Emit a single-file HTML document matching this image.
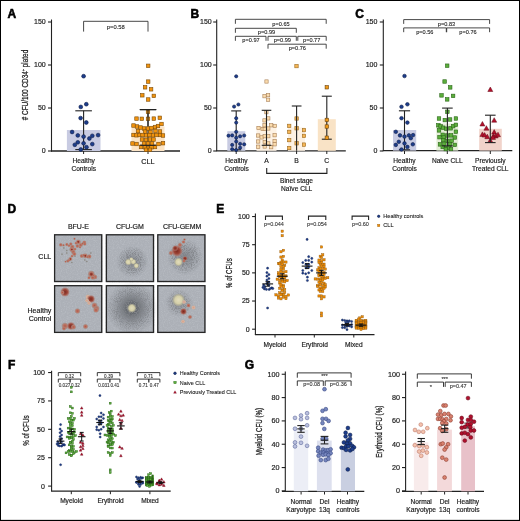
<!DOCTYPE html>
<html><head><meta charset="utf-8"><style>
html,body{margin:0;padding:0;background:#fff;}
svg{display:block;will-change:transform;}
text{font-family:"Liberation Sans", sans-serif;}
</style></head><body>
<svg width="520" height="521" viewBox="0 0 520 521">
<rect x="0" y="0" width="520" height="521" fill="#fff"/>
<text x="7.60" y="18.00" font-size="12" text-anchor="start" font-weight="bold" fill="#000" stroke="#000" stroke-width="0.55" >A</text>
<line x1="51.50" y1="19.50" x2="51.50" y2="151.50" stroke="#222" stroke-width="1.1"/>
<line x1="48.00" y1="22.00" x2="51.50" y2="22.00" stroke="#222" stroke-width="1.1"/>
<text x="45.70" y="24.40" font-size="7.0" text-anchor="end" font-weight="normal" fill="#222" stroke="#222" stroke-width="0.18" >150</text>
<line x1="48.00" y1="65.00" x2="51.50" y2="65.00" stroke="#222" stroke-width="1.1"/>
<text x="45.70" y="67.40" font-size="7.0" text-anchor="end" font-weight="normal" fill="#222" stroke="#222" stroke-width="0.18" >100</text>
<line x1="48.00" y1="108.00" x2="51.50" y2="108.00" stroke="#222" stroke-width="1.1"/>
<text x="45.70" y="110.40" font-size="7.0" text-anchor="end" font-weight="normal" fill="#222" stroke="#222" stroke-width="0.18" >50</text>
<line x1="48.00" y1="151.00" x2="51.50" y2="151.00" stroke="#222" stroke-width="1.1"/>
<text x="45.70" y="153.40" font-size="7.0" text-anchor="end" font-weight="normal" fill="#222" stroke="#222" stroke-width="0.18" >0</text>
<line x1="51.00" y1="151.00" x2="180.00" y2="151.00" stroke="#222" stroke-width="1.3"/>
<line x1="83.60" y1="151.00" x2="83.60" y2="154.00" stroke="#222" stroke-width="1"/>
<line x1="148.00" y1="151.00" x2="148.00" y2="154.00" stroke="#222" stroke-width="1"/>
<rect x="66.90" y="130.00" width="33.60" height="21.00" fill="#c8cbe2"/>
<rect x="131.50" y="126.50" width="33.00" height="24.50" fill="#fde5c6"/>
<line x1="83.60" y1="110.80" x2="83.60" y2="149.60" stroke="#222" stroke-width="1.1"/>
<line x1="75.30" y1="110.80" x2="91.90" y2="110.80" stroke="#222" stroke-width="1.1"/>
<line x1="75.30" y1="149.60" x2="91.90" y2="149.60" stroke="#222" stroke-width="1.1"/>
<circle cx="83.60" cy="76.20" r="1.9" fill="#1d3d8c" stroke="#0f1f48" stroke-width="0.6"/>
<circle cx="80.80" cy="106.90" r="1.9" fill="#1d3d8c" stroke="#0f1f48" stroke-width="0.6"/>
<circle cx="86.30" cy="104.20" r="1.9" fill="#1d3d8c" stroke="#0f1f48" stroke-width="0.6"/>
<circle cx="80.60" cy="118.10" r="1.9" fill="#1d3d8c" stroke="#0f1f48" stroke-width="0.6"/>
<circle cx="86.30" cy="122.50" r="1.9" fill="#1d3d8c" stroke="#0f1f48" stroke-width="0.6"/>
<circle cx="72.10" cy="132.00" r="1.9" fill="#1d3d8c" stroke="#0f1f48" stroke-width="0.6"/>
<circle cx="77.80" cy="135.40" r="1.9" fill="#1d3d8c" stroke="#0f1f48" stroke-width="0.6"/>
<circle cx="83.60" cy="136.60" r="1.9" fill="#1d3d8c" stroke="#0f1f48" stroke-width="0.6"/>
<circle cx="89.40" cy="138.50" r="1.9" fill="#1d3d8c" stroke="#0f1f48" stroke-width="0.6"/>
<circle cx="92.30" cy="135.80" r="1.9" fill="#1d3d8c" stroke="#0f1f48" stroke-width="0.6"/>
<circle cx="98.10" cy="135.10" r="1.9" fill="#1d3d8c" stroke="#0f1f48" stroke-width="0.6"/>
<circle cx="77.80" cy="142.30" r="1.9" fill="#1d3d8c" stroke="#0f1f48" stroke-width="0.6"/>
<circle cx="74.80" cy="144.80" r="1.9" fill="#1d3d8c" stroke="#0f1f48" stroke-width="0.6"/>
<circle cx="83.60" cy="143.30" r="1.9" fill="#1d3d8c" stroke="#0f1f48" stroke-width="0.6"/>
<circle cx="92.30" cy="144.10" r="1.9" fill="#1d3d8c" stroke="#0f1f48" stroke-width="0.6"/>
<circle cx="86.50" cy="147.20" r="1.9" fill="#1d3d8c" stroke="#0f1f48" stroke-width="0.6"/>
<circle cx="80.80" cy="149.50" r="1.9" fill="#1d3d8c" stroke="#0f1f48" stroke-width="0.6"/>
<line x1="148.00" y1="109.60" x2="148.00" y2="145.30" stroke="#222" stroke-width="1.1"/>
<line x1="139.80" y1="109.60" x2="156.20" y2="109.60" stroke="#222" stroke-width="1.1"/>
<line x1="139.80" y1="145.30" x2="156.20" y2="145.30" stroke="#222" stroke-width="1.1"/>
<rect x="146.45" y="64.05" width="3.5" height="3.5" fill="#f1930e" stroke="#7a4a08" stroke-width="0.6"/>
<rect x="146.45" y="79.85" width="3.5" height="3.5" fill="#f1930e" stroke="#7a4a08" stroke-width="0.6"/>
<rect x="143.35" y="85.55" width="3.5" height="3.5" fill="#f1930e" stroke="#7a4a08" stroke-width="0.6"/>
<rect x="149.35" y="87.55" width="3.5" height="3.5" fill="#f1930e" stroke="#7a4a08" stroke-width="0.6"/>
<rect x="140.55" y="93.55" width="3.5" height="3.5" fill="#f1930e" stroke="#7a4a08" stroke-width="0.6"/>
<rect x="152.05" y="94.15" width="3.5" height="3.5" fill="#f1930e" stroke="#7a4a08" stroke-width="0.6"/>
<rect x="146.45" y="97.75" width="3.5" height="3.5" fill="#f1930e" stroke="#7a4a08" stroke-width="0.6"/>
<rect x="146.25" y="110.15" width="3.5" height="3.5" fill="#f1930e" stroke="#7a4a08" stroke-width="0.6"/>
<rect x="134.75" y="116.85" width="3.5" height="3.5" fill="#f1930e" stroke="#7a4a08" stroke-width="0.6"/>
<rect x="140.05" y="117.05" width="3.5" height="3.5" fill="#f1930e" stroke="#7a4a08" stroke-width="0.6"/>
<rect x="146.25" y="117.05" width="3.5" height="3.5" fill="#f1930e" stroke="#7a4a08" stroke-width="0.6"/>
<rect x="152.05" y="116.85" width="3.5" height="3.5" fill="#f1930e" stroke="#7a4a08" stroke-width="0.6"/>
<rect x="158.05" y="116.05" width="3.5" height="3.5" fill="#f1930e" stroke="#7a4a08" stroke-width="0.6"/>
<rect x="131.75" y="123.75" width="3.5" height="3.5" fill="#f1930e" stroke="#7a4a08" stroke-width="0.6"/>
<rect x="135.25" y="124.75" width="3.5" height="3.5" fill="#f1930e" stroke="#7a4a08" stroke-width="0.6"/>
<rect x="138.75" y="125.75" width="3.5" height="3.5" fill="#f1930e" stroke="#7a4a08" stroke-width="0.6"/>
<rect x="142.25" y="126.75" width="3.5" height="3.5" fill="#f1930e" stroke="#7a4a08" stroke-width="0.6"/>
<rect x="146.25" y="126.75" width="3.5" height="3.5" fill="#f1930e" stroke="#7a4a08" stroke-width="0.6"/>
<rect x="149.75" y="126.25" width="3.5" height="3.5" fill="#f1930e" stroke="#7a4a08" stroke-width="0.6"/>
<rect x="153.25" y="125.25" width="3.5" height="3.5" fill="#f1930e" stroke="#7a4a08" stroke-width="0.6"/>
<rect x="156.25" y="124.25" width="3.5" height="3.5" fill="#f1930e" stroke="#7a4a08" stroke-width="0.6"/>
<rect x="159.75" y="122.25" width="3.5" height="3.5" fill="#f1930e" stroke="#7a4a08" stroke-width="0.6"/>
<rect x="143.25" y="129.85" width="3.5" height="3.5" fill="#f1930e" stroke="#7a4a08" stroke-width="0.6"/>
<rect x="148.75" y="130.25" width="3.5" height="3.5" fill="#f1930e" stroke="#7a4a08" stroke-width="0.6"/>
<rect x="158.25" y="129.75" width="3.5" height="3.5" fill="#f1930e" stroke="#7a4a08" stroke-width="0.6"/>
<rect x="131.75" y="133.25" width="3.5" height="3.5" fill="#f1930e" stroke="#7a4a08" stroke-width="0.6"/>
<rect x="134.75" y="133.55" width="3.5" height="3.5" fill="#f1930e" stroke="#7a4a08" stroke-width="0.6"/>
<rect x="137.75" y="133.25" width="3.5" height="3.5" fill="#f1930e" stroke="#7a4a08" stroke-width="0.6"/>
<rect x="140.75" y="133.25" width="3.5" height="3.5" fill="#f1930e" stroke="#7a4a08" stroke-width="0.6"/>
<rect x="144.25" y="133.55" width="3.5" height="3.5" fill="#f1930e" stroke="#7a4a08" stroke-width="0.6"/>
<rect x="147.75" y="133.25" width="3.5" height="3.5" fill="#f1930e" stroke="#7a4a08" stroke-width="0.6"/>
<rect x="151.25" y="133.55" width="3.5" height="3.5" fill="#f1930e" stroke="#7a4a08" stroke-width="0.6"/>
<rect x="154.75" y="133.25" width="3.5" height="3.5" fill="#f1930e" stroke="#7a4a08" stroke-width="0.6"/>
<rect x="158.25" y="133.25" width="3.5" height="3.5" fill="#f1930e" stroke="#7a4a08" stroke-width="0.6"/>
<rect x="161.25" y="133.75" width="3.5" height="3.5" fill="#f1930e" stroke="#7a4a08" stroke-width="0.6"/>
<rect x="140.25" y="137.75" width="3.5" height="3.5" fill="#f1930e" stroke="#7a4a08" stroke-width="0.6"/>
<rect x="144.25" y="138.05" width="3.5" height="3.5" fill="#f1930e" stroke="#7a4a08" stroke-width="0.6"/>
<rect x="148.25" y="137.75" width="3.5" height="3.5" fill="#f1930e" stroke="#7a4a08" stroke-width="0.6"/>
<rect x="151.75" y="137.75" width="3.5" height="3.5" fill="#f1930e" stroke="#7a4a08" stroke-width="0.6"/>
<rect x="130.75" y="141.75" width="3.5" height="3.5" fill="#f1930e" stroke="#7a4a08" stroke-width="0.6"/>
<rect x="134.75" y="142.25" width="3.5" height="3.5" fill="#f1930e" stroke="#7a4a08" stroke-width="0.6"/>
<rect x="156.75" y="142.25" width="3.5" height="3.5" fill="#f1930e" stroke="#7a4a08" stroke-width="0.6"/>
<rect x="161.25" y="141.45" width="3.5" height="3.5" fill="#f1930e" stroke="#7a4a08" stroke-width="0.6"/>
<rect x="139.25" y="145.25" width="3.5" height="3.5" fill="#f1930e" stroke="#7a4a08" stroke-width="0.6"/>
<rect x="143.25" y="145.55" width="3.5" height="3.5" fill="#f1930e" stroke="#7a4a08" stroke-width="0.6"/>
<rect x="146.25" y="146.25" width="3.5" height="3.5" fill="#f1930e" stroke="#7a4a08" stroke-width="0.6"/>
<rect x="149.75" y="145.55" width="3.5" height="3.5" fill="#f1930e" stroke="#7a4a08" stroke-width="0.6"/>
<rect x="153.25" y="145.25" width="3.5" height="3.5" fill="#f1930e" stroke="#7a4a08" stroke-width="0.6"/>
<rect x="144.25" y="148.05" width="3.5" height="3.5" fill="#f1930e" stroke="#7a4a08" stroke-width="0.6"/>
<rect x="148.25" y="148.05" width="3.5" height="3.5" fill="#f1930e" stroke="#7a4a08" stroke-width="0.6"/>
<rect x="136.25" y="129.25" width="3.5" height="3.5" fill="#f1930e" stroke="#7a4a08" stroke-width="0.6"/>
<rect x="153.75" y="129.25" width="3.5" height="3.5" fill="#f1930e" stroke="#7a4a08" stroke-width="0.6"/>
<rect x="146.25" y="141.75" width="3.5" height="3.5" fill="#f1930e" stroke="#7a4a08" stroke-width="0.6"/>
<rect x="142.25" y="141.75" width="3.5" height="3.5" fill="#f1930e" stroke="#7a4a08" stroke-width="0.6"/>
<rect x="150.25" y="141.75" width="3.5" height="3.5" fill="#f1930e" stroke="#7a4a08" stroke-width="0.6"/>
<line x1="148.00" y1="109.60" x2="148.00" y2="126.00" stroke="#222" stroke-width="1.1"/>
<line x1="139.80" y1="109.60" x2="156.30" y2="109.60" stroke="#222" stroke-width="1.2"/>
<line x1="140.20" y1="145.30" x2="155.80" y2="145.30" stroke="#222" stroke-width="1.1"/>
<path d="M83.60 31.60V21.30H148.00V31.60" fill="none" stroke="#333" stroke-width="0.9"/>
<text x="115.80" y="28.80" font-size="5.8" text-anchor="middle" font-weight="normal" fill="#222" stroke="#222" stroke-width="0.1" >p=0.58</text>
<text x="83.70" y="163.20" font-size="6.6" text-anchor="middle" font-weight="normal" fill="#222" stroke="#222" stroke-width="0.18" >Healthy</text>
<text x="83.70" y="171.20" font-size="6.6" text-anchor="middle" font-weight="normal" fill="#222" stroke="#222" stroke-width="0.18" >Controls</text>
<text x="147.90" y="163.50" font-size="7.2" text-anchor="middle" font-weight="normal" fill="#222" stroke="#222" stroke-width="0.18" >CLL</text>
<text transform="translate(28.2,85) rotate(-90)" font-size="8.3" text-anchor="middle" fill="#222" stroke="#222" stroke-width="0.25" textLength="70.5" lengthAdjust="spacingAndGlyphs"># CFU/100 CD34<tspan font-size="5" dy="-3">+</tspan><tspan dy="3"> plated</tspan></text>
<text x="190.60" y="18.00" font-size="12" text-anchor="start" font-weight="bold" fill="#000" stroke="#000" stroke-width="0.55" >B</text>
<line x1="216.70" y1="19.50" x2="216.70" y2="151.00" stroke="#222" stroke-width="1.1"/>
<line x1="213.20" y1="22.00" x2="216.70" y2="22.00" stroke="#222" stroke-width="1.1"/>
<text x="211.70" y="24.40" font-size="7.0" text-anchor="end" font-weight="normal" fill="#222" stroke="#222" stroke-width="0.18" >150</text>
<line x1="213.20" y1="65.00" x2="216.70" y2="65.00" stroke="#222" stroke-width="1.1"/>
<text x="211.70" y="67.40" font-size="7.0" text-anchor="end" font-weight="normal" fill="#222" stroke="#222" stroke-width="0.18" >100</text>
<line x1="213.20" y1="108.00" x2="216.70" y2="108.00" stroke="#222" stroke-width="1.1"/>
<text x="211.70" y="110.40" font-size="7.0" text-anchor="end" font-weight="normal" fill="#222" stroke="#222" stroke-width="0.18" >50</text>
<line x1="213.20" y1="151.00" x2="216.70" y2="151.00" stroke="#222" stroke-width="1.1"/>
<text x="211.70" y="153.40" font-size="7.0" text-anchor="end" font-weight="normal" fill="#222" stroke="#222" stroke-width="0.18" >0</text>
<line x1="216.20" y1="150.80" x2="345.80" y2="150.80" stroke="#222" stroke-width="1.3"/>
<line x1="236.20" y1="150.80" x2="236.20" y2="154.00" stroke="#222" stroke-width="1"/>
<line x1="266.50" y1="150.80" x2="266.50" y2="154.00" stroke="#222" stroke-width="1"/>
<line x1="296.60" y1="150.80" x2="296.60" y2="154.00" stroke="#222" stroke-width="1"/>
<line x1="326.80" y1="150.80" x2="326.80" y2="154.00" stroke="#222" stroke-width="1"/>
<rect x="227.30" y="131.20" width="18.00" height="19.60" fill="#c8cbe2"/>
<rect x="256.50" y="126.00" width="20.00" height="24.80" fill="#fdf2e4"/>
<rect x="288.00" y="127.50" width="17.00" height="23.30" fill="#fdf1e2"/>
<rect x="317.80" y="119.20" width="18.00" height="31.60" fill="#f9e3c6"/>
<line x1="236.20" y1="110.90" x2="236.20" y2="149.80" stroke="#222" stroke-width="1.1"/>
<line x1="231.20" y1="110.90" x2="241.20" y2="110.90" stroke="#222" stroke-width="1.1"/>
<line x1="231.20" y1="149.80" x2="241.20" y2="149.80" stroke="#222" stroke-width="1.1"/>
<circle cx="236.20" cy="76.30" r="1.6" fill="#1d3d8c" stroke="#0f1f48" stroke-width="0.6"/>
<circle cx="234.10" cy="106.60" r="1.6" fill="#1d3d8c" stroke="#0f1f48" stroke-width="0.6"/>
<circle cx="238.40" cy="104.50" r="1.6" fill="#1d3d8c" stroke="#0f1f48" stroke-width="0.6"/>
<circle cx="236.20" cy="118.20" r="1.6" fill="#1d3d8c" stroke="#0f1f48" stroke-width="0.6"/>
<circle cx="236.20" cy="122.60" r="1.6" fill="#1d3d8c" stroke="#0f1f48" stroke-width="0.6"/>
<circle cx="236.20" cy="131.80" r="1.6" fill="#1d3d8c" stroke="#0f1f48" stroke-width="0.6"/>
<circle cx="228.50" cy="135.70" r="1.6" fill="#1d3d8c" stroke="#0f1f48" stroke-width="0.6"/>
<circle cx="232.20" cy="135.40" r="1.6" fill="#1d3d8c" stroke="#0f1f48" stroke-width="0.6"/>
<circle cx="240.10" cy="136.30" r="1.6" fill="#1d3d8c" stroke="#0f1f48" stroke-width="0.6"/>
<circle cx="244.20" cy="135.50" r="1.6" fill="#1d3d8c" stroke="#0f1f48" stroke-width="0.6"/>
<circle cx="236.20" cy="137.70" r="1.6" fill="#1d3d8c" stroke="#0f1f48" stroke-width="0.6"/>
<circle cx="236.20" cy="141.50" r="1.6" fill="#1d3d8c" stroke="#0f1f48" stroke-width="0.6"/>
<circle cx="232.20" cy="144.90" r="1.6" fill="#1d3d8c" stroke="#0f1f48" stroke-width="0.6"/>
<circle cx="240.10" cy="143.80" r="1.6" fill="#1d3d8c" stroke="#0f1f48" stroke-width="0.6"/>
<circle cx="244.20" cy="144.30" r="1.6" fill="#1d3d8c" stroke="#0f1f48" stroke-width="0.6"/>
<circle cx="240.10" cy="147.70" r="1.6" fill="#1d3d8c" stroke="#0f1f48" stroke-width="0.6"/>
<circle cx="232.20" cy="149.20" r="1.6" fill="#1d3d8c" stroke="#0f1f48" stroke-width="0.6"/>
<circle cx="236.20" cy="150.00" r="1.6" fill="#1d3d8c" stroke="#0f1f48" stroke-width="0.6"/>
<rect x="264.85" y="79.85" width="3.3" height="3.3" fill="#fbdcae" stroke="#a88058" stroke-width="0.6"/>
<rect x="262.85" y="94.55" width="3.3" height="3.3" fill="#fbdcae" stroke="#a88058" stroke-width="0.6"/>
<rect x="266.45" y="93.45" width="3.3" height="3.3" fill="#fbdcae" stroke="#a88058" stroke-width="0.6"/>
<rect x="266.45" y="98.05" width="3.3" height="3.3" fill="#fbdcae" stroke="#a88058" stroke-width="0.6"/>
<rect x="264.75" y="110.55" width="3.3" height="3.3" fill="#fbdcae" stroke="#a88058" stroke-width="0.6"/>
<rect x="266.65" y="116.75" width="3.3" height="3.3" fill="#fbdcae" stroke="#a88058" stroke-width="0.6"/>
<rect x="262.85" y="118.75" width="3.3" height="3.3" fill="#fbdcae" stroke="#a88058" stroke-width="0.6"/>
<rect x="262.85" y="123.55" width="3.3" height="3.3" fill="#fbdcae" stroke="#a88058" stroke-width="0.6"/>
<rect x="269.55" y="123.65" width="3.3" height="3.3" fill="#fbdcae" stroke="#a88058" stroke-width="0.6"/>
<rect x="273.15" y="124.25" width="3.3" height="3.3" fill="#fbdcae" stroke="#a88058" stroke-width="0.6"/>
<rect x="256.85" y="126.35" width="3.3" height="3.3" fill="#fbdcae" stroke="#a88058" stroke-width="0.6"/>
<rect x="260.95" y="127.35" width="3.3" height="3.3" fill="#fbdcae" stroke="#a88058" stroke-width="0.6"/>
<rect x="263.05" y="127.35" width="3.3" height="3.3" fill="#fbdcae" stroke="#a88058" stroke-width="0.6"/>
<rect x="266.65" y="126.85" width="3.3" height="3.3" fill="#fbdcae" stroke="#a88058" stroke-width="0.6"/>
<rect x="256.55" y="133.85" width="3.3" height="3.3" fill="#fbdcae" stroke="#a88058" stroke-width="0.6"/>
<rect x="259.95" y="135.75" width="3.3" height="3.3" fill="#fbdcae" stroke="#a88058" stroke-width="0.6"/>
<rect x="263.05" y="134.55" width="3.3" height="3.3" fill="#fbdcae" stroke="#a88058" stroke-width="0.6"/>
<rect x="266.65" y="134.55" width="3.3" height="3.3" fill="#fbdcae" stroke="#a88058" stroke-width="0.6"/>
<rect x="272.95" y="133.55" width="3.3" height="3.3" fill="#fbdcae" stroke="#a88058" stroke-width="0.6"/>
<rect x="256.55" y="139.85" width="3.3" height="3.3" fill="#fbdcae" stroke="#a88058" stroke-width="0.6"/>
<rect x="263.05" y="140.35" width="3.3" height="3.3" fill="#fbdcae" stroke="#a88058" stroke-width="0.6"/>
<rect x="272.95" y="139.35" width="3.3" height="3.3" fill="#fbdcae" stroke="#a88058" stroke-width="0.6"/>
<rect x="266.65" y="141.75" width="3.3" height="3.3" fill="#fbdcae" stroke="#a88058" stroke-width="0.6"/>
<rect x="272.95" y="142.65" width="3.3" height="3.3" fill="#fbdcae" stroke="#a88058" stroke-width="0.6"/>
<rect x="256.55" y="145.05" width="3.3" height="3.3" fill="#fbdcae" stroke="#a88058" stroke-width="0.6"/>
<rect x="263.05" y="144.85" width="3.3" height="3.3" fill="#fbdcae" stroke="#a88058" stroke-width="0.6"/>
<rect x="269.55" y="145.55" width="3.3" height="3.3" fill="#fbdcae" stroke="#a88058" stroke-width="0.6"/>
<line x1="266.50" y1="110.30" x2="266.50" y2="145.30" stroke="#222" stroke-width="1.1"/>
<line x1="261.70" y1="110.30" x2="271.30" y2="110.30" stroke="#222" stroke-width="1.1"/>
<line x1="261.70" y1="145.30" x2="271.30" y2="145.30" stroke="#222" stroke-width="1.1"/>
<rect x="294.80" y="64.40" width="3.4" height="3.4" fill="#f6b656" stroke="#9a6a22" stroke-width="0.6"/>
<rect x="294.90" y="116.80" width="3.4" height="3.4" fill="#f6b656" stroke="#9a6a22" stroke-width="0.6"/>
<rect x="287.50" y="124.20" width="3.4" height="3.4" fill="#f6b656" stroke="#9a6a22" stroke-width="0.6"/>
<rect x="294.90" y="126.60" width="3.4" height="3.4" fill="#f6b656" stroke="#9a6a22" stroke-width="0.6"/>
<rect x="302.30" y="128.40" width="3.4" height="3.4" fill="#f6b656" stroke="#9a6a22" stroke-width="0.6"/>
<rect x="287.50" y="130.20" width="3.4" height="3.4" fill="#f6b656" stroke="#9a6a22" stroke-width="0.6"/>
<rect x="302.30" y="134.20" width="3.4" height="3.4" fill="#f6b656" stroke="#9a6a22" stroke-width="0.6"/>
<rect x="287.50" y="138.40" width="3.4" height="3.4" fill="#f6b656" stroke="#9a6a22" stroke-width="0.6"/>
<rect x="294.90" y="141.60" width="3.4" height="3.4" fill="#f6b656" stroke="#9a6a22" stroke-width="0.6"/>
<rect x="302.30" y="142.90" width="3.4" height="3.4" fill="#f6b656" stroke="#9a6a22" stroke-width="0.6"/>
<rect x="287.50" y="146.30" width="3.4" height="3.4" fill="#f6b656" stroke="#9a6a22" stroke-width="0.6"/>
<line x1="296.60" y1="106.00" x2="296.60" y2="150.80" stroke="#222" stroke-width="1.1"/>
<line x1="291.80" y1="106.00" x2="301.50" y2="106.00" stroke="#222" stroke-width="1.1"/>
<line x1="326.80" y1="96.20" x2="326.80" y2="139.20" stroke="#222" stroke-width="1.1"/>
<line x1="321.80" y1="96.20" x2="331.80" y2="96.20" stroke="#222" stroke-width="1.1"/>
<line x1="321.80" y1="139.20" x2="331.80" y2="139.20" stroke="#222" stroke-width="1.1"/>
<rect x="325.10" y="85.60" width="3.4" height="3.4" fill="#ef9a1c" stroke="#6a4008" stroke-width="0.6"/>
<rect x="325.10" y="118.20" width="3.4" height="3.4" fill="#ef9a1c" stroke="#6a4008" stroke-width="0.6"/>
<rect x="325.10" y="124.80" width="3.4" height="3.4" fill="#ef9a1c" stroke="#6a4008" stroke-width="0.6"/>
<rect x="325.10" y="136.00" width="3.4" height="3.4" fill="#ef9a1c" stroke="#6a4008" stroke-width="0.6"/>
<path d="M235.40 23.80V19.30H326.20V23.80" fill="none" stroke="#333" stroke-width="0.9"/>
<text x="281.00" y="25.80" font-size="5.6" text-anchor="middle" font-weight="normal" fill="#222" stroke="#222" stroke-width="0.1" >p=0.65</text>
<path d="M235.40 32.80V28.30H296.30V32.80" fill="none" stroke="#333" stroke-width="0.9"/>
<text x="266.50" y="33.60" font-size="5.6" text-anchor="middle" font-weight="normal" fill="#222" stroke="#222" stroke-width="0.1" >p=0.99</text>
<path d="M235.40 40.80V36.30H266.00V40.80" fill="none" stroke="#333" stroke-width="0.9"/>
<text x="251.00" y="42.20" font-size="5.6" text-anchor="middle" font-weight="normal" fill="#222" stroke="#222" stroke-width="0.1" >p=0.97</text>
<path d="M268.00 40.80V36.30H296.30V40.80" fill="none" stroke="#333" stroke-width="0.9"/>
<text x="282.30" y="42.20" font-size="5.6" text-anchor="middle" font-weight="normal" fill="#222" stroke="#222" stroke-width="0.1" >p=0.99</text>
<path d="M297.80 40.80V36.30H326.20V40.80" fill="none" stroke="#333" stroke-width="0.9"/>
<text x="311.70" y="42.20" font-size="5.6" text-anchor="middle" font-weight="normal" fill="#222" stroke="#222" stroke-width="0.1" >p=0.77</text>
<path d="M268.00 48.70V44.20H326.20V48.70" fill="none" stroke="#333" stroke-width="0.9"/>
<text x="297.30" y="50.00" font-size="5.6" text-anchor="middle" font-weight="normal" fill="#222" stroke="#222" stroke-width="0.1" >p=0.76</text>
<text x="236.50" y="163.40" font-size="6.6" text-anchor="middle" font-weight="normal" fill="#222" stroke="#222" stroke-width="0.18" >Healthy</text>
<text x="236.50" y="171.40" font-size="6.6" text-anchor="middle" font-weight="normal" fill="#222" stroke="#222" stroke-width="0.18" >Controls</text>
<text x="266.50" y="163.00" font-size="6.8" text-anchor="middle" font-weight="normal" fill="#222" stroke="#222" stroke-width="0.18" >A</text>
<text x="296.50" y="163.00" font-size="6.8" text-anchor="middle" font-weight="normal" fill="#222" stroke="#222" stroke-width="0.18" >B</text>
<text x="326.80" y="163.00" font-size="6.8" text-anchor="middle" font-weight="normal" fill="#222" stroke="#222" stroke-width="0.18" >C</text>
<path d="M266.7 168V173.4H326.9V168" fill="none" stroke="#222" stroke-width="1.1"/>
<text x="296.50" y="182.60" font-size="6.6" text-anchor="middle" font-weight="normal" fill="#222" stroke="#222" stroke-width="0.18" >Binet stage</text>
<text x="296.70" y="191.20" font-size="6.6" text-anchor="middle" font-weight="normal" fill="#222" stroke="#222" stroke-width="0.18" >Naïve CLL</text>
<text x="355.20" y="18.00" font-size="12" text-anchor="start" font-weight="bold" fill="#000" stroke="#000" stroke-width="0.55" >C</text>
<line x1="383.30" y1="19.50" x2="383.30" y2="151.00" stroke="#222" stroke-width="1.1"/>
<line x1="379.80" y1="22.00" x2="383.30" y2="22.00" stroke="#222" stroke-width="1.1"/>
<text x="377.40" y="24.40" font-size="7.0" text-anchor="end" font-weight="normal" fill="#222" stroke="#222" stroke-width="0.18" >150</text>
<line x1="379.80" y1="65.00" x2="383.30" y2="65.00" stroke="#222" stroke-width="1.1"/>
<text x="377.40" y="67.40" font-size="7.0" text-anchor="end" font-weight="normal" fill="#222" stroke="#222" stroke-width="0.18" >100</text>
<line x1="379.80" y1="108.00" x2="383.30" y2="108.00" stroke="#222" stroke-width="1.1"/>
<text x="377.40" y="110.40" font-size="7.0" text-anchor="end" font-weight="normal" fill="#222" stroke="#222" stroke-width="0.18" >50</text>
<line x1="379.80" y1="151.00" x2="383.30" y2="151.00" stroke="#222" stroke-width="1.1"/>
<text x="377.40" y="153.40" font-size="7.0" text-anchor="end" font-weight="normal" fill="#222" stroke="#222" stroke-width="0.18" >0</text>
<line x1="382.80" y1="150.60" x2="512.30" y2="150.60" stroke="#222" stroke-width="1.3"/>
<line x1="404.50" y1="150.60" x2="404.50" y2="154.00" stroke="#222" stroke-width="1"/>
<line x1="447.30" y1="150.60" x2="447.30" y2="154.00" stroke="#222" stroke-width="1"/>
<line x1="490.30" y1="150.60" x2="490.30" y2="154.00" stroke="#222" stroke-width="1"/>
<rect x="393.00" y="130.00" width="23.20" height="20.60" fill="#c8cbe2"/>
<rect x="436.40" y="123.50" width="21.80" height="27.10" fill="#e3eed6"/>
<rect x="479.20" y="128.80" width="22.60" height="21.80" fill="#f1d3ca"/>
<line x1="404.50" y1="110.80" x2="404.50" y2="149.80" stroke="#222" stroke-width="1.1"/>
<line x1="398.90" y1="110.80" x2="410.10" y2="110.80" stroke="#222" stroke-width="1.1"/>
<line x1="398.90" y1="149.80" x2="410.10" y2="149.80" stroke="#222" stroke-width="1.1"/>
<circle cx="404.50" cy="76.00" r="1.8" fill="#1d3d8c" stroke="#0f1f48" stroke-width="0.6"/>
<circle cx="401.50" cy="106.80" r="1.8" fill="#1d3d8c" stroke="#0f1f48" stroke-width="0.6"/>
<circle cx="407.40" cy="104.30" r="1.8" fill="#1d3d8c" stroke="#0f1f48" stroke-width="0.6"/>
<circle cx="401.50" cy="118.20" r="1.8" fill="#1d3d8c" stroke="#0f1f48" stroke-width="0.6"/>
<circle cx="407.40" cy="122.60" r="1.8" fill="#1d3d8c" stroke="#0f1f48" stroke-width="0.6"/>
<circle cx="395.80" cy="131.80" r="1.8" fill="#1d3d8c" stroke="#0f1f48" stroke-width="0.6"/>
<circle cx="400.00" cy="135.40" r="1.8" fill="#1d3d8c" stroke="#0f1f48" stroke-width="0.6"/>
<circle cx="404.50" cy="136.60" r="1.8" fill="#1d3d8c" stroke="#0f1f48" stroke-width="0.6"/>
<circle cx="408.90" cy="135.40" r="1.8" fill="#1d3d8c" stroke="#0f1f48" stroke-width="0.6"/>
<circle cx="413.10" cy="135.10" r="1.8" fill="#1d3d8c" stroke="#0f1f48" stroke-width="0.6"/>
<circle cx="410.80" cy="138.20" r="1.8" fill="#1d3d8c" stroke="#0f1f48" stroke-width="0.6"/>
<circle cx="398.80" cy="141.80" r="1.8" fill="#1d3d8c" stroke="#0f1f48" stroke-width="0.6"/>
<circle cx="395.80" cy="144.90" r="1.8" fill="#1d3d8c" stroke="#0f1f48" stroke-width="0.6"/>
<circle cx="404.50" cy="143.40" r="1.8" fill="#1d3d8c" stroke="#0f1f48" stroke-width="0.6"/>
<circle cx="412.80" cy="144.30" r="1.8" fill="#1d3d8c" stroke="#0f1f48" stroke-width="0.6"/>
<circle cx="407.40" cy="146.90" r="1.8" fill="#1d3d8c" stroke="#0f1f48" stroke-width="0.6"/>
<circle cx="401.50" cy="149.50" r="1.8" fill="#1d3d8c" stroke="#0f1f48" stroke-width="0.6"/>
<rect x="445.45" y="63.95" width="3.5" height="3.5" fill="#5bae3b" stroke="#2a6618" stroke-width="0.6"/>
<rect x="442.85" y="79.75" width="3.5" height="3.5" fill="#5bae3b" stroke="#2a6618" stroke-width="0.6"/>
<rect x="448.45" y="85.65" width="3.5" height="3.5" fill="#5bae3b" stroke="#2a6618" stroke-width="0.6"/>
<rect x="439.75" y="93.65" width="3.5" height="3.5" fill="#5bae3b" stroke="#2a6618" stroke-width="0.6"/>
<rect x="451.35" y="94.15" width="3.5" height="3.5" fill="#5bae3b" stroke="#2a6618" stroke-width="0.6"/>
<rect x="445.45" y="97.65" width="3.5" height="3.5" fill="#5bae3b" stroke="#2a6618" stroke-width="0.6"/>
<rect x="445.65" y="110.05" width="3.5" height="3.5" fill="#5bae3b" stroke="#2a6618" stroke-width="0.6"/>
<rect x="437.25" y="116.75" width="3.5" height="3.5" fill="#5bae3b" stroke="#2a6618" stroke-width="0.6"/>
<rect x="443.05" y="118.35" width="3.5" height="3.5" fill="#5bae3b" stroke="#2a6618" stroke-width="0.6"/>
<rect x="448.35" y="117.75" width="3.5" height="3.5" fill="#5bae3b" stroke="#2a6618" stroke-width="0.6"/>
<rect x="454.15" y="116.75" width="3.5" height="3.5" fill="#5bae3b" stroke="#2a6618" stroke-width="0.6"/>
<rect x="436.65" y="123.55" width="3.5" height="3.5" fill="#5bae3b" stroke="#2a6618" stroke-width="0.6"/>
<rect x="438.85" y="124.65" width="3.5" height="3.5" fill="#5bae3b" stroke="#2a6618" stroke-width="0.6"/>
<rect x="441.45" y="125.95" width="3.5" height="3.5" fill="#5bae3b" stroke="#2a6618" stroke-width="0.6"/>
<rect x="444.65" y="126.95" width="3.5" height="3.5" fill="#5bae3b" stroke="#2a6618" stroke-width="0.6"/>
<rect x="448.85" y="126.55" width="3.5" height="3.5" fill="#5bae3b" stroke="#2a6618" stroke-width="0.6"/>
<rect x="451.45" y="124.45" width="3.5" height="3.5" fill="#5bae3b" stroke="#2a6618" stroke-width="0.6"/>
<rect x="454.15" y="123.05" width="3.5" height="3.5" fill="#5bae3b" stroke="#2a6618" stroke-width="0.6"/>
<rect x="437.25" y="128.65" width="3.5" height="3.5" fill="#5bae3b" stroke="#2a6618" stroke-width="0.6"/>
<rect x="454.15" y="129.95" width="3.5" height="3.5" fill="#5bae3b" stroke="#2a6618" stroke-width="0.6"/>
<rect x="440.95" y="133.05" width="3.5" height="3.5" fill="#5bae3b" stroke="#2a6618" stroke-width="0.6"/>
<rect x="445.25" y="133.75" width="3.5" height="3.5" fill="#5bae3b" stroke="#2a6618" stroke-width="0.6"/>
<rect x="449.35" y="133.65" width="3.5" height="3.5" fill="#5bae3b" stroke="#2a6618" stroke-width="0.6"/>
<rect x="437.75" y="135.45" width="3.5" height="3.5" fill="#5bae3b" stroke="#2a6618" stroke-width="0.6"/>
<rect x="441.95" y="135.75" width="3.5" height="3.5" fill="#5bae3b" stroke="#2a6618" stroke-width="0.6"/>
<rect x="453.05" y="135.75" width="3.5" height="3.5" fill="#5bae3b" stroke="#2a6618" stroke-width="0.6"/>
<rect x="441.45" y="138.35" width="3.5" height="3.5" fill="#5bae3b" stroke="#2a6618" stroke-width="0.6"/>
<rect x="445.65" y="139.05" width="3.5" height="3.5" fill="#5bae3b" stroke="#2a6618" stroke-width="0.6"/>
<rect x="449.85" y="138.95" width="3.5" height="3.5" fill="#5bae3b" stroke="#2a6618" stroke-width="0.6"/>
<rect x="438.25" y="142.65" width="3.5" height="3.5" fill="#5bae3b" stroke="#2a6618" stroke-width="0.6"/>
<rect x="442.55" y="142.05" width="3.5" height="3.5" fill="#5bae3b" stroke="#2a6618" stroke-width="0.6"/>
<rect x="448.35" y="142.65" width="3.5" height="3.5" fill="#5bae3b" stroke="#2a6618" stroke-width="0.6"/>
<rect x="453.05" y="143.15" width="3.5" height="3.5" fill="#5bae3b" stroke="#2a6618" stroke-width="0.6"/>
<rect x="440.95" y="145.25" width="3.5" height="3.5" fill="#5bae3b" stroke="#2a6618" stroke-width="0.6"/>
<rect x="444.65" y="146.25" width="3.5" height="3.5" fill="#5bae3b" stroke="#2a6618" stroke-width="0.6"/>
<rect x="447.25" y="145.75" width="3.5" height="3.5" fill="#5bae3b" stroke="#2a6618" stroke-width="0.6"/>
<rect x="444.05" y="147.35" width="3.5" height="3.5" fill="#5bae3b" stroke="#2a6618" stroke-width="0.6"/>
<rect x="449.25" y="147.25" width="3.5" height="3.5" fill="#5bae3b" stroke="#2a6618" stroke-width="0.6"/>
<line x1="447.40" y1="108.10" x2="447.40" y2="145.90" stroke="#222" stroke-width="1.1"/>
<line x1="442.10" y1="108.10" x2="452.70" y2="108.10" stroke="#222" stroke-width="1.1"/>
<line x1="442.10" y1="145.90" x2="452.70" y2="145.90" stroke="#222" stroke-width="1.1"/>
<path d="M490.30 87.00L492.80 91.50L487.80 91.50Z" fill="#b3102b" stroke="#640818" stroke-width="0.5"/>
<path d="M494.20 117.70L496.70 122.20L491.70 122.20Z" fill="#b3102b" stroke="#640818" stroke-width="0.5"/>
<path d="M482.40 121.50L484.90 126.00L479.90 126.00Z" fill="#b3102b" stroke="#640818" stroke-width="0.5"/>
<path d="M486.40 125.70L488.90 130.20L483.90 130.20Z" fill="#b3102b" stroke="#640818" stroke-width="0.5"/>
<path d="M482.40 131.90L484.90 136.40L479.90 136.40Z" fill="#b3102b" stroke="#640818" stroke-width="0.5"/>
<path d="M484.60 132.60L487.10 137.10L482.10 137.10Z" fill="#b3102b" stroke="#640818" stroke-width="0.5"/>
<path d="M487.30 134.20L489.80 138.70L484.80 138.70Z" fill="#b3102b" stroke="#640818" stroke-width="0.5"/>
<path d="M494.20 129.60L496.70 134.10L491.70 134.10Z" fill="#b3102b" stroke="#640818" stroke-width="0.5"/>
<path d="M493.40 133.40L495.90 137.90L490.90 137.90Z" fill="#b3102b" stroke="#640818" stroke-width="0.5"/>
<path d="M495.70 133.40L498.20 137.90L493.20 137.90Z" fill="#b3102b" stroke="#640818" stroke-width="0.5"/>
<path d="M498.00 132.20L500.50 136.70L495.50 136.70Z" fill="#b3102b" stroke="#640818" stroke-width="0.5"/>
<path d="M490.30 138.00L492.80 142.50L487.80 142.50Z" fill="#b3102b" stroke="#640818" stroke-width="0.5"/>
<path d="M493.00 134.90L495.50 139.40L490.50 139.40Z" fill="#b3102b" stroke="#640818" stroke-width="0.5"/>
<line x1="490.30" y1="115.20" x2="490.30" y2="142.60" stroke="#222" stroke-width="1.1"/>
<line x1="485.00" y1="115.20" x2="495.60" y2="115.20" stroke="#222" stroke-width="1.1"/>
<line x1="485.00" y1="142.60" x2="495.60" y2="142.60" stroke="#222" stroke-width="1.1"/>
<path d="M403.70 23.90V19.60H489.60V23.90" fill="none" stroke="#333" stroke-width="0.9"/>
<text x="446.50" y="25.80" font-size="5.6" text-anchor="middle" font-weight="normal" fill="#222" stroke="#222" stroke-width="0.1" >p=0.83</text>
<path d="M403.70 32.20V27.90H446.30V32.20" fill="none" stroke="#333" stroke-width="0.9"/>
<text x="424.80" y="33.80" font-size="5.6" text-anchor="middle" font-weight="normal" fill="#222" stroke="#222" stroke-width="0.1" >p=0.56</text>
<path d="M446.70 32.20V27.90H489.60V32.20" fill="none" stroke="#333" stroke-width="0.9"/>
<text x="468.00" y="33.80" font-size="5.6" text-anchor="middle" font-weight="normal" fill="#222" stroke="#222" stroke-width="0.1" >p=0.76</text>
<text x="404.50" y="163.40" font-size="6.6" text-anchor="middle" font-weight="normal" fill="#222" stroke="#222" stroke-width="0.18" >Healthy</text>
<text x="404.50" y="171.40" font-size="6.6" text-anchor="middle" font-weight="normal" fill="#222" stroke="#222" stroke-width="0.18" >Controls</text>
<text x="447.30" y="163.40" font-size="6.6" text-anchor="middle" font-weight="normal" fill="#222" stroke="#222" stroke-width="0.18" >Naive CLL</text>
<text x="490.30" y="163.40" font-size="6.6" text-anchor="middle" font-weight="normal" fill="#222" stroke="#222" stroke-width="0.18" >Previously</text>
<text x="490.30" y="171.40" font-size="6.6" text-anchor="middle" font-weight="normal" fill="#222" stroke="#222" stroke-width="0.18" >Treated CLL</text>
<text x="7.60" y="213.00" font-size="12" text-anchor="start" font-weight="bold" fill="#000" stroke="#000" stroke-width="0.55" >D</text>
<text x="78.40" y="229.10" font-size="7.0" text-anchor="middle" font-weight="normal" fill="#222" stroke="#222" stroke-width="0.18" >BFU-E</text>
<text x="129.90" y="229.10" font-size="7.0" text-anchor="middle" font-weight="normal" fill="#222" stroke="#222" stroke-width="0.18" >CFU-GM</text>
<text x="182.20" y="229.10" font-size="7.0" text-anchor="middle" font-weight="normal" fill="#222" stroke="#222" stroke-width="0.18" >CFU-GEMM</text>
<text x="51.30" y="258.90" font-size="7.1" text-anchor="end" font-weight="normal" fill="#222" stroke="#222" stroke-width="0.18" >CLL</text>
<text x="51.30" y="313.10" font-size="7.0" text-anchor="end" font-weight="normal" fill="#222" stroke="#222" stroke-width="0.18" >Healthy</text>
<text x="51.30" y="321.20" font-size="7.0" text-anchor="end" font-weight="normal" fill="#222" stroke="#222" stroke-width="0.18" >Control</text>
<defs>
<filter id="speck" x="0" y="0" width="100%" height="100%">
<feTurbulence type="fractalNoise" baseFrequency="1.1" numOctaves="1" seed="4"/>
<feColorMatrix type="matrix" values="0 0 0 0 0.22  0 0 0 0 0.23  0 0 0 0 0.25  0 0 0 5 -2.2"/>
</filter>
<filter id="fine" x="0" y="0" width="100%" height="100%">
<feTurbulence type="fractalNoise" baseFrequency="0.8" numOctaves="2" seed="9"/>
<feColorMatrix type="matrix" values="0 0 0 0 0.55  0 0 0 0 0.58  0 0 0 0 0.62  0 0 0 2.2 -0.95"/>
</filter>
<radialGradient id="hm1"><stop offset="0" stop-color="#fff" stop-opacity="1"/><stop offset="0.55" stop-color="#fff" stop-opacity="0.85"/><stop offset="1" stop-color="#fff" stop-opacity="0"/></radialGradient>
<mask id="mk1" maskContentUnits="userSpaceOnUse"><circle cx="0" cy="0" r="1" fill="url(#hm1)"/></mask>
<radialGradient id="halo1"><stop offset="0" stop-color="#5e6268" stop-opacity="0.6"/><stop offset="0.5" stop-color="#72767c" stop-opacity="0.3"/><stop offset="1" stop-color="#8a9098" stop-opacity="0"/></radialGradient>
<radialGradient id="halo2"><stop offset="0" stop-color="#404448" stop-opacity="0.95"/><stop offset="0.25" stop-color="#55595e" stop-opacity="0.75"/><stop offset="0.6" stop-color="#74787e" stop-opacity="0.4"/><stop offset="1" stop-color="#90949a" stop-opacity="0"/></radialGradient>
<radialGradient id="yel"><stop offset="0" stop-color="#e2dcbc"/><stop offset="0.6" stop-color="#d4cfa8"/><stop offset="1" stop-color="#a4a290" stop-opacity="0.6"/></radialGradient>
<radialGradient id="redb"><stop offset="0" stop-color="#7c2a22"/><stop offset="0.55" stop-color="#9e4638"/><stop offset="1" stop-color="#b08078" stop-opacity="0.6"/></radialGradient>
<radialGradient id="sal"><stop offset="0" stop-color="#b05a4a"/><stop offset="0.6" stop-color="#bd7868"/><stop offset="1" stop-color="#9c8880" stop-opacity="0.6"/></radialGradient>
<radialGradient id="lsal"><stop offset="0" stop-color="#d4a08c"/><stop offset="0.7" stop-color="#d8b4a0"/><stop offset="1" stop-color="#b0a8a0" stop-opacity="0.5"/></radialGradient>
<radialGradient id="gry"><stop offset="0" stop-color="#7e7a70" stop-opacity="0.9"/><stop offset="1" stop-color="#8a8880" stop-opacity="0"/></radialGradient>
</defs>
<g transform="translate(54,234.2)">
<rect x="0" y="0" width="48.3" height="47.9" fill="#acb0b7"/>
<rect x="0" y="0" width="48.3" height="47.9" filter="url(#fine)" opacity="0.5"/>
<circle cx="9.80" cy="13.80" r="1.37" fill="url(#gry)"/>
<circle cx="12.80" cy="16.30" r="1.37" fill="url(#gry)"/>
<circle cx="12.80" cy="18.80" r="1.37" fill="url(#gry)"/>
<circle cx="30.80" cy="25.80" r="1.37" fill="url(#gry)"/>
<circle cx="32.80" cy="27.30" r="1.37" fill="url(#gry)"/>
<circle cx="17.80" cy="28.30" r="1.37" fill="url(#gry)"/>
<circle cx="36.80" cy="18.80" r="1.37" fill="url(#gry)"/>
<circle cx="21.00" cy="22.00" r="1.37" fill="url(#gry)"/>
<circle cx="8.00" cy="20.00" r="1.37" fill="url(#gry)"/>
<circle cx="6.80" cy="10.60" r="1.89" fill="url(#sal)"/>
<circle cx="12.80" cy="10.30" r="1.68" fill="url(#sal)"/>
<circle cx="16.80" cy="9.80" r="1.78" fill="url(#sal)"/>
<circle cx="18.30" cy="12.80" r="2.31" fill="url(#sal)"/>
<circle cx="17.80" cy="15.30" r="2.52" fill="url(#sal)"/>
<circle cx="19.30" cy="17.80" r="2.31" fill="url(#sal)"/>
<circle cx="20.30" cy="19.80" r="2.10" fill="url(#sal)"/>
<circle cx="24.30" cy="7.80" r="2.52" fill="url(#sal)"/>
<circle cx="26.80" cy="10.80" r="2.10" fill="url(#sal)"/>
<circle cx="23.30" cy="11.80" r="1.89" fill="url(#sal)"/>
<circle cx="30.30" cy="8.30" r="2.10" fill="url(#sal)"/>
<circle cx="30.80" cy="9.80" r="1.78" fill="url(#sal)"/>
<circle cx="16.30" cy="24.80" r="2.10" fill="url(#sal)"/>
<circle cx="13.80" cy="26.80" r="1.78" fill="url(#sal)"/>
<circle cx="27.80" cy="21.80" r="2.10" fill="url(#sal)"/>
<circle cx="31.30" cy="21.60" r="2.52" fill="url(#sal)"/>
<circle cx="35.30" cy="22.30" r="2.31" fill="url(#sal)"/>
<circle cx="37.30" cy="39.80" r="3.36" fill="url(#sal)"/>
<circle cx="40.80" cy="42.80" r="2.52" fill="url(#sal)"/>
<circle cx="38.80" cy="43.30" r="2.31" fill="url(#sal)"/>
<circle cx="15.00" cy="11.50" r="1.37" fill="url(#sal)"/>
<circle cx="21.00" cy="15.00" r="1.37" fill="url(#sal)"/>
<circle cx="22.00" cy="9.00" r="1.47" fill="url(#sal)"/>
<circle cx="28.50" cy="9.50" r="1.37" fill="url(#sal)"/>
<circle cx="18.00" cy="22.00" r="1.37" fill="url(#sal)"/>
<circle cx="15.00" cy="26.00" r="1.26" fill="url(#sal)"/>
<circle cx="11.50" cy="27.50" r="1.16" fill="url(#sal)"/>
<circle cx="29.50" cy="21.00" r="1.37" fill="url(#sal)"/>
<circle cx="33.50" cy="22.80" r="1.37" fill="url(#sal)"/>
<circle cx="39.00" cy="41.00" r="1.89" fill="url(#sal)"/>
<circle cx="35.00" cy="43.50" r="1.58" fill="url(#sal)"/>
<circle cx="9.50" cy="11.00" r="1.26" fill="url(#sal)"/>
<circle cx="26.00" cy="13.00" r="1.26" fill="url(#sal)"/>
<circle cx="20.50" cy="4.50" r="1.26" fill="url(#sal)"/>
<circle cx="37.30" cy="40.00" r="2.10" fill="url(#redb)"/>
<circle cx="24.30" cy="7.60" r="1.47" fill="url(#redb)"/>
<circle cx="31.30" cy="21.60" r="1.37" fill="url(#redb)"/>
<circle cx="17.80" cy="15.30" r="1.26" fill="url(#redb)"/>
<circle cx="16.30" cy="24.80" r="1.05" fill="url(#redb)"/>
<rect x="0.6" y="0.6" width="47.099999999999994" height="46.699999999999996" fill="none" stroke="#262626" stroke-width="1.3"/>
</g>
<g transform="translate(105.8,234.2)">
<rect x="0" y="0" width="48.3" height="47.9" fill="#acb0b7"/>
<rect x="0" y="0" width="48.3" height="47.9" filter="url(#fine)" opacity="0.5"/>
<circle cx="26.5" cy="27.5" r="16" fill="url(#halo1)" opacity="1"/>
<mask id="mk26p5_27p5" maskUnits="userSpaceOnUse" x="0" y="0" width="48.3" height="47.9"><circle cx="26.5" cy="27.5" r="16" fill="url(#hm1)"/></mask>
<g mask="url(#mk26p5_27p5)"><rect x="0" y="0" width="48.3" height="47.9" filter="url(#speck)" opacity="1"/></g>
<circle cx="22.50" cy="27.80" r="3.20" fill="url(#yel)"/>
<circle cx="27.50" cy="27.50" r="2.80" fill="url(#yel)"/>
<circle cx="30.50" cy="31.50" r="2.60" fill="url(#yel)"/>
<circle cx="25.50" cy="25.00" r="2.00" fill="url(#yel)"/>
<rect x="0.6" y="0.6" width="47.099999999999994" height="46.699999999999996" fill="none" stroke="#262626" stroke-width="1.3"/>
</g>
<g transform="translate(157.2,234.2)">
<rect x="0" y="0" width="48.3" height="47.9" fill="#acb0b7"/>
<rect x="0" y="0" width="48.3" height="47.9" filter="url(#fine)" opacity="0.5"/>
<circle cx="27.8" cy="22.8" r="18" fill="url(#halo1)" opacity="1"/>
<mask id="mk27p8_22p8" maskUnits="userSpaceOnUse" x="0" y="0" width="48.3" height="47.9"><circle cx="27.8" cy="22.8" r="18" fill="url(#hm1)"/></mask>
<g mask="url(#mk27p8_22p8)"><rect x="0" y="0" width="48.3" height="47.9" filter="url(#speck)" opacity="1"/></g>
<circle cx="21.30" cy="27.80" r="4.20" fill="url(#yel)"/>
<circle cx="13.80" cy="18.80" r="2.20" fill="url(#sal)"/>
<circle cx="22.80" cy="10.80" r="2.20" fill="url(#sal)"/>
<circle cx="26.30" cy="7.80" r="1.80" fill="url(#sal)"/>
<circle cx="27.30" cy="5.30" r="1.30" fill="url(#sal)"/>
<circle cx="19.80" cy="16.80" r="5.40" fill="url(#redb)"/>
<circle cx="18.00" cy="14.00" r="2.60" fill="url(#redb)"/>
<circle cx="27.80" cy="24.30" r="2.30" fill="url(#redb)"/>
<circle cx="26.80" cy="26.80" r="1.80" fill="url(#sal)"/>
<rect x="0.6" y="0.6" width="47.099999999999994" height="46.699999999999996" fill="none" stroke="#262626" stroke-width="1.3"/>
</g>
<g transform="translate(54,285.1)">
<rect x="0" y="0" width="48.3" height="47.9" fill="#acb0b7"/>
<rect x="0" y="0" width="48.3" height="47.9" filter="url(#fine)" opacity="0.5"/>
<circle cx="11.00" cy="6.90" r="4.56" fill="url(#redb)"/>
<circle cx="8.50" cy="7.40" r="1.92" fill="url(#sal)"/>
<circle cx="34.00" cy="11.90" r="2.64" fill="url(#lsal)"/>
<circle cx="37.00" cy="13.90" r="3.84" fill="url(#redb)"/>
<circle cx="33.00" cy="15.40" r="2.04" fill="url(#lsal)"/>
<circle cx="35.00" cy="17.90" r="2.04" fill="url(#lsal)"/>
<circle cx="40.50" cy="20.40" r="2.88" fill="url(#sal)"/>
<circle cx="42.50" cy="23.40" r="2.88" fill="url(#sal)"/>
<circle cx="42.00" cy="24.90" r="2.64" fill="url(#sal)"/>
<circle cx="23.50" cy="25.90" r="2.64" fill="url(#sal)"/>
<circle cx="11.00" cy="40.90" r="3.24" fill="url(#sal)"/>
<circle cx="17.00" cy="40.90" r="3.84" fill="url(#redb)"/>
<circle cx="19.50" cy="41.90" r="2.52" fill="url(#sal)"/>
<circle cx="31.50" cy="41.40" r="2.52" fill="url(#sal)"/>
<circle cx="10.00" cy="43.40" r="2.04" fill="url(#sal)"/>
<rect x="0.6" y="0.6" width="47.099999999999994" height="46.699999999999996" fill="none" stroke="#262626" stroke-width="1.3"/>
</g>
<g transform="translate(105.8,285.1)">
<rect x="0" y="0" width="48.3" height="47.9" fill="#acb0b7"/>
<rect x="0" y="0" width="48.3" height="47.9" filter="url(#fine)" opacity="0.5"/>
<circle cx="26" cy="23" r="26" fill="url(#halo2)" opacity="1"/>
<mask id="mk26_23" maskUnits="userSpaceOnUse" x="0" y="0" width="48.3" height="47.9"><circle cx="26" cy="23" r="26" fill="url(#hm1)"/></mask>
<g mask="url(#mk26_23)"><rect x="0" y="0" width="48.3" height="47.9" filter="url(#speck)" opacity="1"/></g>
<circle cx="26.00" cy="23.00" r="4.40" fill="url(#yel)"/>
<rect x="0.6" y="0.6" width="47.099999999999994" height="46.699999999999996" fill="none" stroke="#262626" stroke-width="1.3"/>
</g>
<g transform="translate(157.2,285.1)">
<rect x="0" y="0" width="48.3" height="47.9" fill="#acb0b7"/>
<rect x="0" y="0" width="48.3" height="47.9" filter="url(#fine)" opacity="0.5"/>
<circle cx="22" cy="18" r="14" fill="url(#halo1)" opacity="0.8"/>
<mask id="mk22_18" maskUnits="userSpaceOnUse" x="0" y="0" width="48.3" height="47.9"><circle cx="22" cy="18" r="14" fill="url(#hm1)"/></mask>
<g mask="url(#mk22_18)"><rect x="0" y="0" width="48.3" height="47.9" filter="url(#speck)" opacity="0.8"/></g>
<circle cx="21.30" cy="14.90" r="6.20" fill="url(#yel)"/>
<circle cx="26.80" cy="16.90" r="2.10" fill="url(#lsal)"/>
<circle cx="31.30" cy="20.40" r="2.10" fill="url(#sal)"/>
<circle cx="36.30" cy="22.40" r="2.30" fill="url(#lsal)"/>
<circle cx="26.30" cy="26.40" r="3.20" fill="url(#redb)"/>
<circle cx="32.80" cy="31.90" r="2.10" fill="url(#sal)"/>
<circle cx="25.80" cy="36.40" r="2.10" fill="url(#lsal)"/>
<rect x="0.6" y="0.6" width="47.099999999999994" height="46.699999999999996" fill="none" stroke="#262626" stroke-width="1.3"/>
</g>
<text x="216.30" y="212.60" font-size="12" text-anchor="start" font-weight="bold" fill="#000" stroke="#000" stroke-width="0.55" >E</text>
<line x1="255.40" y1="213.50" x2="255.40" y2="334.80" stroke="#222" stroke-width="1.1"/>
<line x1="252.10" y1="216.54" x2="255.40" y2="216.54" stroke="#222" stroke-width="1.1"/>
<text x="249.70" y="218.94" font-size="7.0" text-anchor="end" font-weight="normal" fill="#222" stroke="#222" stroke-width="0.18" >100</text>
<line x1="252.10" y1="244.70" x2="255.40" y2="244.70" stroke="#222" stroke-width="1.1"/>
<text x="249.70" y="247.10" font-size="7.0" text-anchor="end" font-weight="normal" fill="#222" stroke="#222" stroke-width="0.18" >75</text>
<line x1="252.10" y1="272.87" x2="255.40" y2="272.87" stroke="#222" stroke-width="1.1"/>
<text x="249.70" y="275.27" font-size="7.0" text-anchor="end" font-weight="normal" fill="#222" stroke="#222" stroke-width="0.18" >50</text>
<line x1="252.10" y1="301.03" x2="255.40" y2="301.03" stroke="#222" stroke-width="1.1"/>
<text x="249.70" y="303.43" font-size="7.0" text-anchor="end" font-weight="normal" fill="#222" stroke="#222" stroke-width="0.18" >25</text>
<line x1="252.10" y1="329.20" x2="255.40" y2="329.20" stroke="#222" stroke-width="1.1"/>
<text x="249.70" y="331.60" font-size="7.0" text-anchor="end" font-weight="normal" fill="#222" stroke="#222" stroke-width="0.18" >0</text>
<line x1="254.90" y1="334.70" x2="374.50" y2="334.70" stroke="#222" stroke-width="1.2"/>
<line x1="275.00" y1="334.70" x2="275.00" y2="337.50" stroke="#222" stroke-width="1"/>
<line x1="314.30" y1="334.70" x2="314.30" y2="337.50" stroke="#222" stroke-width="1"/>
<line x1="353.80" y1="334.70" x2="353.80" y2="337.50" stroke="#222" stroke-width="1"/>
<text x="274.80" y="347.20" font-size="6.6" text-anchor="middle" font-weight="normal" fill="#222" stroke="#222" stroke-width="0.18" >Myeloid</text>
<text x="314.70" y="347.20" font-size="6.6" text-anchor="middle" font-weight="normal" fill="#222" stroke="#222" stroke-width="0.18" >Erythroid</text>
<text x="353.80" y="347.20" font-size="6.6" text-anchor="middle" font-weight="normal" fill="#222" stroke="#222" stroke-width="0.18" >Mixed</text>
<text transform="translate(232.3,273.1) rotate(-90)" font-size="8.3" text-anchor="middle" fill="#222" stroke="#222" stroke-width="0.25" textLength="29.8" lengthAdjust="spacingAndGlyphs">% of CFUs</text>
<path d="M265.50 220.00V216.10H282.40V220.00" fill="none" stroke="#222" stroke-width="1.1"/>
<text x="273.90" y="225.80" font-size="5.5" text-anchor="middle" font-weight="normal" fill="#333" stroke="#333" stroke-width="0.1" >p=0.044</text>
<path d="M308.50 220.00V216.10H325.80V220.00" fill="none" stroke="#222" stroke-width="1.1"/>
<text x="316.90" y="225.80" font-size="5.5" text-anchor="middle" font-weight="normal" fill="#333" stroke="#333" stroke-width="0.1" >p=0.054</text>
<path d="M352.10 220.00V216.10H368.60V220.00" fill="none" stroke="#222" stroke-width="1.1"/>
<text x="360.40" y="225.80" font-size="5.5" text-anchor="middle" font-weight="normal" fill="#333" stroke="#333" stroke-width="0.1" >p=0.60</text>
<circle cx="378.70" cy="216.30" r="1.2" fill="#1d3d8c" stroke="#0f1f48" stroke-width="0.6"/>
<text x="383.30" y="218.00" font-size="5.6" text-anchor="start" font-weight="normal" fill="#222" stroke="#222" stroke-width="0.1" >Healthy controls</text>
<rect x="377.55" y="224.35" width="2.3" height="2.3" fill="#f28c00" stroke="#9a6010" stroke-width="0.4"/>
<text x="383.30" y="227.30" font-size="5.6" text-anchor="start" font-weight="normal" fill="#222" stroke="#222" stroke-width="0.1" >CLL</text>
<circle cx="267.60" cy="268.20" r="1.1" fill="#1d3d8c" stroke="#0f1f48" stroke-width="0.4"/>
<circle cx="266.90" cy="272.60" r="1.1" fill="#1d3d8c" stroke="#0f1f48" stroke-width="0.4"/>
<circle cx="268.90" cy="274.60" r="1.1" fill="#1d3d8c" stroke="#0f1f48" stroke-width="0.4"/>
<circle cx="266.90" cy="276.20" r="1.1" fill="#1d3d8c" stroke="#0f1f48" stroke-width="0.4"/>
<circle cx="268.90" cy="278.50" r="1.1" fill="#1d3d8c" stroke="#0f1f48" stroke-width="0.4"/>
<circle cx="266.90" cy="280.10" r="1.1" fill="#1d3d8c" stroke="#0f1f48" stroke-width="0.4"/>
<circle cx="268.90" cy="282.10" r="1.1" fill="#1d3d8c" stroke="#0f1f48" stroke-width="0.4"/>
<circle cx="266.90" cy="283.40" r="1.1" fill="#1d3d8c" stroke="#0f1f48" stroke-width="0.4"/>
<circle cx="263.70" cy="285.20" r="1.1" fill="#1d3d8c" stroke="#0f1f48" stroke-width="0.4"/>
<circle cx="268.90" cy="285.20" r="1.1" fill="#1d3d8c" stroke="#0f1f48" stroke-width="0.4"/>
<circle cx="262.90" cy="287.40" r="1.1" fill="#1d3d8c" stroke="#0f1f48" stroke-width="0.4"/>
<circle cx="265.00" cy="286.80" r="1.1" fill="#1d3d8c" stroke="#0f1f48" stroke-width="0.4"/>
<circle cx="271.80" cy="287.90" r="1.1" fill="#1d3d8c" stroke="#0f1f48" stroke-width="0.4"/>
<circle cx="272.80" cy="288.50" r="1.1" fill="#1d3d8c" stroke="#0f1f48" stroke-width="0.4"/>
<circle cx="264.40" cy="288.90" r="1.1" fill="#1d3d8c" stroke="#0f1f48" stroke-width="0.4"/>
<circle cx="266.40" cy="289.40" r="1.1" fill="#1d3d8c" stroke="#0f1f48" stroke-width="0.4"/>
<circle cx="269.10" cy="289.50" r="1.1" fill="#1d3d8c" stroke="#0f1f48" stroke-width="0.4"/>
<circle cx="270.40" cy="288.50" r="1.1" fill="#1d3d8c" stroke="#0f1f48" stroke-width="0.4"/>
<circle cx="267.60" cy="308.00" r="1.1" fill="#1d3d8c" stroke="#0f1f48" stroke-width="0.4"/>
<circle cx="307.10" cy="239.40" r="1.1" fill="#1d3d8c" stroke="#0f1f48" stroke-width="0.4"/>
<circle cx="308.70" cy="256.70" r="1.1" fill="#1d3d8c" stroke="#0f1f48" stroke-width="0.4"/>
<circle cx="311.80" cy="258.40" r="1.1" fill="#1d3d8c" stroke="#0f1f48" stroke-width="0.4"/>
<circle cx="305.70" cy="260.40" r="1.1" fill="#1d3d8c" stroke="#0f1f48" stroke-width="0.4"/>
<circle cx="308.70" cy="260.40" r="1.1" fill="#1d3d8c" stroke="#0f1f48" stroke-width="0.4"/>
<circle cx="311.80" cy="262.10" r="1.1" fill="#1d3d8c" stroke="#0f1f48" stroke-width="0.4"/>
<circle cx="302.80" cy="262.60" r="1.1" fill="#1d3d8c" stroke="#0f1f48" stroke-width="0.4"/>
<circle cx="306.00" cy="264.40" r="1.1" fill="#1d3d8c" stroke="#0f1f48" stroke-width="0.4"/>
<circle cx="308.70" cy="264.40" r="1.1" fill="#1d3d8c" stroke="#0f1f48" stroke-width="0.4"/>
<circle cx="306.00" cy="267.80" r="1.1" fill="#1d3d8c" stroke="#0f1f48" stroke-width="0.4"/>
<circle cx="308.70" cy="267.10" r="1.1" fill="#1d3d8c" stroke="#0f1f48" stroke-width="0.4"/>
<circle cx="302.80" cy="270.50" r="1.1" fill="#1d3d8c" stroke="#0f1f48" stroke-width="0.4"/>
<circle cx="311.80" cy="270.50" r="1.1" fill="#1d3d8c" stroke="#0f1f48" stroke-width="0.4"/>
<circle cx="302.80" cy="273.20" r="1.1" fill="#1d3d8c" stroke="#0f1f48" stroke-width="0.4"/>
<circle cx="305.70" cy="273.80" r="1.1" fill="#1d3d8c" stroke="#0f1f48" stroke-width="0.4"/>
<circle cx="308.70" cy="272.80" r="1.1" fill="#1d3d8c" stroke="#0f1f48" stroke-width="0.4"/>
<circle cx="307.40" cy="277.20" r="1.1" fill="#1d3d8c" stroke="#0f1f48" stroke-width="0.4"/>
<circle cx="307.40" cy="280.50" r="1.1" fill="#1d3d8c" stroke="#0f1f48" stroke-width="0.4"/>
<rect x="281.07" y="230.06" width="2.25" height="2.25" fill="#f28c00" stroke="#9a6010" stroke-width="0.45"/>
<rect x="281.07" y="234.57" width="2.25" height="2.25" fill="#f28c00" stroke="#9a6010" stroke-width="0.45"/>
<rect x="282.32" y="249.21" width="2.25" height="2.25" fill="#f28c00" stroke="#9a6010" stroke-width="0.45"/>
<rect x="279.82" y="250.64" width="2.25" height="2.25" fill="#f28c00" stroke="#9a6010" stroke-width="0.45"/>
<rect x="282.32" y="255.35" width="2.25" height="2.25" fill="#f28c00" stroke="#9a6010" stroke-width="0.45"/>
<rect x="279.82" y="255.93" width="2.25" height="2.25" fill="#f28c00" stroke="#9a6010" stroke-width="0.45"/>
<rect x="281.07" y="258.87" width="2.25" height="2.25" fill="#f28c00" stroke="#9a6010" stroke-width="0.45"/>
<rect x="282.32" y="260.85" width="2.25" height="2.25" fill="#f28c00" stroke="#9a6010" stroke-width="0.45"/>
<rect x="284.82" y="260.92" width="2.25" height="2.25" fill="#f28c00" stroke="#9a6010" stroke-width="0.45"/>
<rect x="279.82" y="261.10" width="2.25" height="2.25" fill="#f28c00" stroke="#9a6010" stroke-width="0.45"/>
<rect x="277.32" y="262.47" width="2.25" height="2.25" fill="#f28c00" stroke="#9a6010" stroke-width="0.45"/>
<rect x="278.57" y="262.65" width="2.25" height="2.25" fill="#f28c00" stroke="#9a6010" stroke-width="0.45"/>
<rect x="281.07" y="263.02" width="2.25" height="2.25" fill="#f28c00" stroke="#9a6010" stroke-width="0.45"/>
<rect x="283.57" y="264.28" width="2.25" height="2.25" fill="#f28c00" stroke="#9a6010" stroke-width="0.45"/>
<rect x="279.82" y="265.52" width="2.25" height="2.25" fill="#f28c00" stroke="#9a6010" stroke-width="0.45"/>
<rect x="282.32" y="265.77" width="2.25" height="2.25" fill="#f28c00" stroke="#9a6010" stroke-width="0.45"/>
<rect x="282.32" y="268.02" width="2.25" height="2.25" fill="#f28c00" stroke="#9a6010" stroke-width="0.45"/>
<rect x="279.82" y="268.20" width="2.25" height="2.25" fill="#f28c00" stroke="#9a6010" stroke-width="0.45"/>
<rect x="279.82" y="270.52" width="2.25" height="2.25" fill="#f28c00" stroke="#9a6010" stroke-width="0.45"/>
<rect x="284.82" y="270.53" width="2.25" height="2.25" fill="#f28c00" stroke="#9a6010" stroke-width="0.45"/>
<rect x="282.32" y="271.33" width="2.25" height="2.25" fill="#f28c00" stroke="#9a6010" stroke-width="0.45"/>
<rect x="277.32" y="271.70" width="2.25" height="2.25" fill="#f28c00" stroke="#9a6010" stroke-width="0.45"/>
<rect x="277.32" y="273.27" width="2.25" height="2.25" fill="#f28c00" stroke="#9a6010" stroke-width="0.45"/>
<rect x="279.82" y="274.39" width="2.25" height="2.25" fill="#f28c00" stroke="#9a6010" stroke-width="0.45"/>
<rect x="282.32" y="274.57" width="2.25" height="2.25" fill="#f28c00" stroke="#9a6010" stroke-width="0.45"/>
<rect x="284.82" y="274.78" width="2.25" height="2.25" fill="#f28c00" stroke="#9a6010" stroke-width="0.45"/>
<rect x="278.57" y="275.77" width="2.25" height="2.25" fill="#f28c00" stroke="#9a6010" stroke-width="0.45"/>
<rect x="281.07" y="276.19" width="2.25" height="2.25" fill="#f28c00" stroke="#9a6010" stroke-width="0.45"/>
<rect x="283.57" y="276.54" width="2.25" height="2.25" fill="#f28c00" stroke="#9a6010" stroke-width="0.45"/>
<rect x="276.07" y="278.05" width="2.25" height="2.25" fill="#f28c00" stroke="#9a6010" stroke-width="0.45"/>
<rect x="278.57" y="279.07" width="2.25" height="2.25" fill="#f28c00" stroke="#9a6010" stroke-width="0.45"/>
<rect x="281.07" y="279.32" width="2.25" height="2.25" fill="#f28c00" stroke="#9a6010" stroke-width="0.45"/>
<rect x="283.57" y="279.45" width="2.25" height="2.25" fill="#f28c00" stroke="#9a6010" stroke-width="0.45"/>
<rect x="286.07" y="279.46" width="2.25" height="2.25" fill="#f28c00" stroke="#9a6010" stroke-width="0.45"/>
<rect x="281.07" y="280.27" width="2.25" height="2.25" fill="#f28c00" stroke="#9a6010" stroke-width="0.45"/>
<rect x="283.57" y="280.72" width="2.25" height="2.25" fill="#f28c00" stroke="#9a6010" stroke-width="0.45"/>
<rect x="278.57" y="281.82" width="2.25" height="2.25" fill="#f28c00" stroke="#9a6010" stroke-width="0.45"/>
<rect x="279.82" y="283.37" width="2.25" height="2.25" fill="#f28c00" stroke="#9a6010" stroke-width="0.45"/>
<rect x="282.32" y="284.46" width="2.25" height="2.25" fill="#f28c00" stroke="#9a6010" stroke-width="0.45"/>
<rect x="279.82" y="285.09" width="2.25" height="2.25" fill="#f28c00" stroke="#9a6010" stroke-width="0.45"/>
<rect x="282.32" y="285.76" width="2.25" height="2.25" fill="#f28c00" stroke="#9a6010" stroke-width="0.45"/>
<rect x="278.57" y="287.18" width="2.25" height="2.25" fill="#f28c00" stroke="#9a6010" stroke-width="0.45"/>
<rect x="283.57" y="288.39" width="2.25" height="2.25" fill="#f28c00" stroke="#9a6010" stroke-width="0.45"/>
<rect x="281.07" y="288.68" width="2.25" height="2.25" fill="#f28c00" stroke="#9a6010" stroke-width="0.45"/>
<rect x="281.07" y="289.33" width="2.25" height="2.25" fill="#f28c00" stroke="#9a6010" stroke-width="0.45"/>
<rect x="283.57" y="291.32" width="2.25" height="2.25" fill="#f28c00" stroke="#9a6010" stroke-width="0.45"/>
<rect x="278.57" y="291.70" width="2.25" height="2.25" fill="#f28c00" stroke="#9a6010" stroke-width="0.45"/>
<rect x="281.07" y="292.83" width="2.25" height="2.25" fill="#f28c00" stroke="#9a6010" stroke-width="0.45"/>
<rect x="282.32" y="293.57" width="2.25" height="2.25" fill="#f28c00" stroke="#9a6010" stroke-width="0.45"/>
<rect x="279.82" y="293.70" width="2.25" height="2.25" fill="#f28c00" stroke="#9a6010" stroke-width="0.45"/>
<rect x="274.82" y="293.74" width="2.25" height="2.25" fill="#f28c00" stroke="#9a6010" stroke-width="0.45"/>
<rect x="287.32" y="293.87" width="2.25" height="2.25" fill="#f28c00" stroke="#9a6010" stroke-width="0.45"/>
<rect x="277.32" y="294.78" width="2.25" height="2.25" fill="#f28c00" stroke="#9a6010" stroke-width="0.45"/>
<rect x="284.82" y="295.09" width="2.25" height="2.25" fill="#f28c00" stroke="#9a6010" stroke-width="0.45"/>
<rect x="282.32" y="295.97" width="2.25" height="2.25" fill="#f28c00" stroke="#9a6010" stroke-width="0.45"/>
<rect x="277.32" y="296.91" width="2.25" height="2.25" fill="#f28c00" stroke="#9a6010" stroke-width="0.45"/>
<rect x="284.82" y="297.51" width="2.25" height="2.25" fill="#f28c00" stroke="#9a6010" stroke-width="0.45"/>
<rect x="279.82" y="297.66" width="2.25" height="2.25" fill="#f28c00" stroke="#9a6010" stroke-width="0.45"/>
<rect x="320.38" y="245.83" width="2.25" height="2.25" fill="#f28c00" stroke="#9a6010" stroke-width="0.45"/>
<rect x="321.62" y="253.71" width="2.25" height="2.25" fill="#f28c00" stroke="#9a6010" stroke-width="0.45"/>
<rect x="319.12" y="255.14" width="2.25" height="2.25" fill="#f28c00" stroke="#9a6010" stroke-width="0.45"/>
<rect x="320.38" y="256.39" width="2.25" height="2.25" fill="#f28c00" stroke="#9a6010" stroke-width="0.45"/>
<rect x="322.88" y="258.71" width="2.25" height="2.25" fill="#f28c00" stroke="#9a6010" stroke-width="0.45"/>
<rect x="317.88" y="258.96" width="2.25" height="2.25" fill="#f28c00" stroke="#9a6010" stroke-width="0.45"/>
<rect x="320.38" y="259.64" width="2.25" height="2.25" fill="#f28c00" stroke="#9a6010" stroke-width="0.45"/>
<rect x="317.88" y="261.40" width="2.25" height="2.25" fill="#f28c00" stroke="#9a6010" stroke-width="0.45"/>
<rect x="320.38" y="261.49" width="2.25" height="2.25" fill="#f28c00" stroke="#9a6010" stroke-width="0.45"/>
<rect x="322.88" y="263.02" width="2.25" height="2.25" fill="#f28c00" stroke="#9a6010" stroke-width="0.45"/>
<rect x="319.12" y="263.15" width="2.25" height="2.25" fill="#f28c00" stroke="#9a6010" stroke-width="0.45"/>
<rect x="321.62" y="263.71" width="2.25" height="2.25" fill="#f28c00" stroke="#9a6010" stroke-width="0.45"/>
<rect x="320.38" y="264.96" width="2.25" height="2.25" fill="#f28c00" stroke="#9a6010" stroke-width="0.45"/>
<rect x="322.88" y="265.48" width="2.25" height="2.25" fill="#f28c00" stroke="#9a6010" stroke-width="0.45"/>
<rect x="317.88" y="266.62" width="2.25" height="2.25" fill="#f28c00" stroke="#9a6010" stroke-width="0.45"/>
<rect x="321.62" y="267.36" width="2.25" height="2.25" fill="#f28c00" stroke="#9a6010" stroke-width="0.45"/>
<rect x="319.12" y="267.79" width="2.25" height="2.25" fill="#f28c00" stroke="#9a6010" stroke-width="0.45"/>
<rect x="324.12" y="267.91" width="2.25" height="2.25" fill="#f28c00" stroke="#9a6010" stroke-width="0.45"/>
<rect x="316.62" y="268.81" width="2.25" height="2.25" fill="#f28c00" stroke="#9a6010" stroke-width="0.45"/>
<rect x="317.88" y="270.30" width="2.25" height="2.25" fill="#f28c00" stroke="#9a6010" stroke-width="0.45"/>
<rect x="320.38" y="271.30" width="2.25" height="2.25" fill="#f28c00" stroke="#9a6010" stroke-width="0.45"/>
<rect x="322.88" y="271.40" width="2.25" height="2.25" fill="#f28c00" stroke="#9a6010" stroke-width="0.45"/>
<rect x="320.38" y="272.50" width="2.25" height="2.25" fill="#f28c00" stroke="#9a6010" stroke-width="0.45"/>
<rect x="322.88" y="273.19" width="2.25" height="2.25" fill="#f28c00" stroke="#9a6010" stroke-width="0.45"/>
<rect x="317.88" y="273.23" width="2.25" height="2.25" fill="#f28c00" stroke="#9a6010" stroke-width="0.45"/>
<rect x="317.88" y="274.63" width="2.25" height="2.25" fill="#f28c00" stroke="#9a6010" stroke-width="0.45"/>
<rect x="320.38" y="275.24" width="2.25" height="2.25" fill="#f28c00" stroke="#9a6010" stroke-width="0.45"/>
<rect x="322.88" y="275.97" width="2.25" height="2.25" fill="#f28c00" stroke="#9a6010" stroke-width="0.45"/>
<rect x="326.62" y="276.57" width="2.25" height="2.25" fill="#f28c00" stroke="#9a6010" stroke-width="0.45"/>
<rect x="321.62" y="277.28" width="2.25" height="2.25" fill="#f28c00" stroke="#9a6010" stroke-width="0.45"/>
<rect x="324.12" y="277.33" width="2.25" height="2.25" fill="#f28c00" stroke="#9a6010" stroke-width="0.45"/>
<rect x="314.12" y="277.82" width="2.25" height="2.25" fill="#f28c00" stroke="#9a6010" stroke-width="0.45"/>
<rect x="316.62" y="277.96" width="2.25" height="2.25" fill="#f28c00" stroke="#9a6010" stroke-width="0.45"/>
<rect x="319.12" y="278.03" width="2.25" height="2.25" fill="#f28c00" stroke="#9a6010" stroke-width="0.45"/>
<rect x="321.62" y="278.88" width="2.25" height="2.25" fill="#f28c00" stroke="#9a6010" stroke-width="0.45"/>
<rect x="319.12" y="279.73" width="2.25" height="2.25" fill="#f28c00" stroke="#9a6010" stroke-width="0.45"/>
<rect x="317.88" y="281.11" width="2.25" height="2.25" fill="#f28c00" stroke="#9a6010" stroke-width="0.45"/>
<rect x="320.38" y="281.41" width="2.25" height="2.25" fill="#f28c00" stroke="#9a6010" stroke-width="0.45"/>
<rect x="322.88" y="282.11" width="2.25" height="2.25" fill="#f28c00" stroke="#9a6010" stroke-width="0.45"/>
<rect x="319.12" y="283.57" width="2.25" height="2.25" fill="#f28c00" stroke="#9a6010" stroke-width="0.45"/>
<rect x="324.12" y="283.76" width="2.25" height="2.25" fill="#f28c00" stroke="#9a6010" stroke-width="0.45"/>
<rect x="316.62" y="284.41" width="2.25" height="2.25" fill="#f28c00" stroke="#9a6010" stroke-width="0.45"/>
<rect x="321.62" y="284.47" width="2.25" height="2.25" fill="#f28c00" stroke="#9a6010" stroke-width="0.45"/>
<rect x="316.62" y="285.35" width="2.25" height="2.25" fill="#f28c00" stroke="#9a6010" stroke-width="0.45"/>
<rect x="324.12" y="285.80" width="2.25" height="2.25" fill="#f28c00" stroke="#9a6010" stroke-width="0.45"/>
<rect x="319.12" y="286.85" width="2.25" height="2.25" fill="#f28c00" stroke="#9a6010" stroke-width="0.45"/>
<rect x="321.62" y="287.04" width="2.25" height="2.25" fill="#f28c00" stroke="#9a6010" stroke-width="0.45"/>
<rect x="322.88" y="287.17" width="2.25" height="2.25" fill="#f28c00" stroke="#9a6010" stroke-width="0.45"/>
<rect x="320.38" y="288.21" width="2.25" height="2.25" fill="#f28c00" stroke="#9a6010" stroke-width="0.45"/>
<rect x="317.88" y="288.80" width="2.25" height="2.25" fill="#f28c00" stroke="#9a6010" stroke-width="0.45"/>
<rect x="319.12" y="290.22" width="2.25" height="2.25" fill="#f28c00" stroke="#9a6010" stroke-width="0.45"/>
<rect x="321.62" y="290.33" width="2.25" height="2.25" fill="#f28c00" stroke="#9a6010" stroke-width="0.45"/>
<rect x="320.38" y="294.83" width="2.25" height="2.25" fill="#f28c00" stroke="#9a6010" stroke-width="0.45"/>
<rect x="317.88" y="294.86" width="2.25" height="2.25" fill="#f28c00" stroke="#9a6010" stroke-width="0.45"/>
<rect x="322.88" y="295.76" width="2.25" height="2.25" fill="#f28c00" stroke="#9a6010" stroke-width="0.45"/>
<rect x="320.38" y="297.66" width="2.25" height="2.25" fill="#f28c00" stroke="#9a6010" stroke-width="0.45"/>
<rect x="320.38" y="311.96" width="2.25" height="2.25" fill="#f28c00" stroke="#9a6010" stroke-width="0.45"/>
<rect x="320.38" y="314.67" width="2.25" height="2.25" fill="#f28c00" stroke="#9a6010" stroke-width="0.45"/>
<circle cx="342.40" cy="320.05" r="1.09" fill="#1d3d8c" stroke="#0f1f48" stroke-width="0.42"/>
<circle cx="344.70" cy="320.49" r="1.09" fill="#1d3d8c" stroke="#0f1f48" stroke-width="0.42"/>
<circle cx="349.30" cy="320.83" r="1.09" fill="#1d3d8c" stroke="#0f1f48" stroke-width="0.42"/>
<circle cx="347.00" cy="320.86" r="1.09" fill="#1d3d8c" stroke="#0f1f48" stroke-width="0.42"/>
<circle cx="351.60" cy="321.48" r="1.09" fill="#1d3d8c" stroke="#0f1f48" stroke-width="0.42"/>
<circle cx="348.15" cy="322.08" r="1.09" fill="#1d3d8c" stroke="#0f1f48" stroke-width="0.42"/>
<circle cx="345.85" cy="322.47" r="1.09" fill="#1d3d8c" stroke="#0f1f48" stroke-width="0.42"/>
<circle cx="351.60" cy="324.50" r="1.09" fill="#1d3d8c" stroke="#0f1f48" stroke-width="0.42"/>
<circle cx="342.40" cy="325.01" r="1.09" fill="#1d3d8c" stroke="#0f1f48" stroke-width="0.42"/>
<circle cx="347.00" cy="325.24" r="1.09" fill="#1d3d8c" stroke="#0f1f48" stroke-width="0.42"/>
<circle cx="344.70" cy="325.46" r="1.09" fill="#1d3d8c" stroke="#0f1f48" stroke-width="0.42"/>
<circle cx="349.30" cy="325.55" r="1.09" fill="#1d3d8c" stroke="#0f1f48" stroke-width="0.42"/>
<circle cx="349.30" cy="325.83" r="1.09" fill="#1d3d8c" stroke="#0f1f48" stroke-width="0.42"/>
<circle cx="347.00" cy="326.37" r="1.09" fill="#1d3d8c" stroke="#0f1f48" stroke-width="0.42"/>
<circle cx="351.60" cy="326.83" r="1.09" fill="#1d3d8c" stroke="#0f1f48" stroke-width="0.42"/>
<circle cx="342.40" cy="327.57" r="1.09" fill="#1d3d8c" stroke="#0f1f48" stroke-width="0.42"/>
<circle cx="344.70" cy="327.66" r="1.09" fill="#1d3d8c" stroke="#0f1f48" stroke-width="0.42"/>
<circle cx="347.00" cy="329.60" r="1.09" fill="#1d3d8c" stroke="#0f1f48" stroke-width="0.42"/>
<rect x="361.12" y="315.73" width="2.16" height="2.16" fill="#f28c00" stroke="#9a6010" stroke-width="0.45"/>
<rect x="358.72" y="316.85" width="2.16" height="2.16" fill="#f28c00" stroke="#9a6010" stroke-width="0.45"/>
<rect x="357.52" y="317.98" width="2.16" height="2.16" fill="#f28c00" stroke="#9a6010" stroke-width="0.45"/>
<rect x="364.72" y="319.35" width="2.16" height="2.16" fill="#f28c00" stroke="#9a6010" stroke-width="0.45"/>
<rect x="355.12" y="319.43" width="2.16" height="2.16" fill="#f28c00" stroke="#9a6010" stroke-width="0.45"/>
<rect x="359.92" y="319.58" width="2.16" height="2.16" fill="#f28c00" stroke="#9a6010" stroke-width="0.45"/>
<rect x="362.32" y="319.79" width="2.16" height="2.16" fill="#f28c00" stroke="#9a6010" stroke-width="0.45"/>
<rect x="355.12" y="319.88" width="2.16" height="2.16" fill="#f28c00" stroke="#9a6010" stroke-width="0.45"/>
<rect x="364.72" y="319.99" width="2.16" height="2.16" fill="#f28c00" stroke="#9a6010" stroke-width="0.45"/>
<rect x="359.92" y="320.01" width="2.16" height="2.16" fill="#f28c00" stroke="#9a6010" stroke-width="0.45"/>
<rect x="362.32" y="320.29" width="2.16" height="2.16" fill="#f28c00" stroke="#9a6010" stroke-width="0.45"/>
<rect x="357.52" y="320.58" width="2.16" height="2.16" fill="#f28c00" stroke="#9a6010" stroke-width="0.45"/>
<rect x="362.32" y="320.84" width="2.16" height="2.16" fill="#f28c00" stroke="#9a6010" stroke-width="0.45"/>
<rect x="364.72" y="320.95" width="2.16" height="2.16" fill="#f28c00" stroke="#9a6010" stroke-width="0.45"/>
<rect x="357.52" y="321.03" width="2.16" height="2.16" fill="#f28c00" stroke="#9a6010" stroke-width="0.45"/>
<rect x="355.12" y="321.32" width="2.16" height="2.16" fill="#f28c00" stroke="#9a6010" stroke-width="0.45"/>
<rect x="359.92" y="321.53" width="2.16" height="2.16" fill="#f28c00" stroke="#9a6010" stroke-width="0.45"/>
<rect x="364.72" y="321.53" width="2.16" height="2.16" fill="#f28c00" stroke="#9a6010" stroke-width="0.45"/>
<rect x="355.12" y="321.57" width="2.16" height="2.16" fill="#f28c00" stroke="#9a6010" stroke-width="0.45"/>
<rect x="359.92" y="321.61" width="2.16" height="2.16" fill="#f28c00" stroke="#9a6010" stroke-width="0.45"/>
<rect x="362.32" y="321.80" width="2.16" height="2.16" fill="#f28c00" stroke="#9a6010" stroke-width="0.45"/>
<rect x="357.52" y="322.05" width="2.16" height="2.16" fill="#f28c00" stroke="#9a6010" stroke-width="0.45"/>
<rect x="364.72" y="322.31" width="2.16" height="2.16" fill="#f28c00" stroke="#9a6010" stroke-width="0.45"/>
<rect x="355.12" y="322.45" width="2.16" height="2.16" fill="#f28c00" stroke="#9a6010" stroke-width="0.45"/>
<rect x="362.32" y="323.43" width="2.16" height="2.16" fill="#f28c00" stroke="#9a6010" stroke-width="0.45"/>
<rect x="359.92" y="323.45" width="2.16" height="2.16" fill="#f28c00" stroke="#9a6010" stroke-width="0.45"/>
<rect x="357.52" y="323.63" width="2.16" height="2.16" fill="#f28c00" stroke="#9a6010" stroke-width="0.45"/>
<rect x="364.72" y="323.87" width="2.16" height="2.16" fill="#f28c00" stroke="#9a6010" stroke-width="0.45"/>
<rect x="357.52" y="324.28" width="2.16" height="2.16" fill="#f28c00" stroke="#9a6010" stroke-width="0.45"/>
<rect x="355.12" y="324.32" width="2.16" height="2.16" fill="#f28c00" stroke="#9a6010" stroke-width="0.45"/>
<rect x="359.92" y="324.39" width="2.16" height="2.16" fill="#f28c00" stroke="#9a6010" stroke-width="0.45"/>
<rect x="362.32" y="324.55" width="2.16" height="2.16" fill="#f28c00" stroke="#9a6010" stroke-width="0.45"/>
<rect x="364.72" y="324.78" width="2.16" height="2.16" fill="#f28c00" stroke="#9a6010" stroke-width="0.45"/>
<rect x="355.12" y="324.81" width="2.16" height="2.16" fill="#f28c00" stroke="#9a6010" stroke-width="0.45"/>
<rect x="357.52" y="324.87" width="2.16" height="2.16" fill="#f28c00" stroke="#9a6010" stroke-width="0.45"/>
<rect x="359.92" y="324.94" width="2.16" height="2.16" fill="#f28c00" stroke="#9a6010" stroke-width="0.45"/>
<rect x="362.32" y="325.41" width="2.16" height="2.16" fill="#f28c00" stroke="#9a6010" stroke-width="0.45"/>
<rect x="364.72" y="325.57" width="2.16" height="2.16" fill="#f28c00" stroke="#9a6010" stroke-width="0.45"/>
<rect x="362.32" y="325.84" width="2.16" height="2.16" fill="#f28c00" stroke="#9a6010" stroke-width="0.45"/>
<rect x="355.12" y="325.86" width="2.16" height="2.16" fill="#f28c00" stroke="#9a6010" stroke-width="0.45"/>
<rect x="359.92" y="326.00" width="2.16" height="2.16" fill="#f28c00" stroke="#9a6010" stroke-width="0.45"/>
<rect x="357.52" y="326.05" width="2.16" height="2.16" fill="#f28c00" stroke="#9a6010" stroke-width="0.45"/>
<rect x="355.12" y="326.53" width="2.16" height="2.16" fill="#f28c00" stroke="#9a6010" stroke-width="0.45"/>
<rect x="362.32" y="326.69" width="2.16" height="2.16" fill="#f28c00" stroke="#9a6010" stroke-width="0.45"/>
<rect x="359.92" y="326.74" width="2.16" height="2.16" fill="#f28c00" stroke="#9a6010" stroke-width="0.45"/>
<rect x="357.52" y="326.75" width="2.16" height="2.16" fill="#f28c00" stroke="#9a6010" stroke-width="0.45"/>
<rect x="364.72" y="326.87" width="2.16" height="2.16" fill="#f28c00" stroke="#9a6010" stroke-width="0.45"/>
<rect x="364.72" y="326.97" width="2.16" height="2.16" fill="#f28c00" stroke="#9a6010" stroke-width="0.45"/>
<rect x="355.12" y="327.02" width="2.16" height="2.16" fill="#f28c00" stroke="#9a6010" stroke-width="0.45"/>
<rect x="359.92" y="327.11" width="2.16" height="2.16" fill="#f28c00" stroke="#9a6010" stroke-width="0.45"/>
<rect x="357.52" y="327.11" width="2.16" height="2.16" fill="#f28c00" stroke="#9a6010" stroke-width="0.45"/>
<rect x="362.32" y="327.57" width="2.16" height="2.16" fill="#f28c00" stroke="#9a6010" stroke-width="0.45"/>
<rect x="359.92" y="328.38" width="2.16" height="2.16" fill="#f28c00" stroke="#9a6010" stroke-width="0.45"/>
<line x1="262.30" y1="283.91" x2="273.10" y2="283.91" stroke="#111" stroke-width="1.1"/>
<line x1="267.70" y1="281.66" x2="267.70" y2="286.16" stroke="#111" stroke-width="1"/>
<line x1="265.50" y1="281.66" x2="269.90" y2="281.66" stroke="#111" stroke-width="1"/>
<line x1="265.50" y1="286.16" x2="269.90" y2="286.16" stroke="#111" stroke-width="1"/>
<line x1="276.80" y1="276.25" x2="287.60" y2="276.25" stroke="#111" stroke-width="1.1"/>
<line x1="282.20" y1="273.77" x2="282.20" y2="278.73" stroke="#111" stroke-width="1"/>
<line x1="280.00" y1="273.77" x2="284.40" y2="273.77" stroke="#111" stroke-width="1"/>
<line x1="280.00" y1="278.73" x2="284.40" y2="278.73" stroke="#111" stroke-width="1"/>
<line x1="301.70" y1="266.11" x2="312.50" y2="266.11" stroke="#111" stroke-width="1.1"/>
<line x1="307.10" y1="263.63" x2="307.10" y2="268.59" stroke="#111" stroke-width="1"/>
<line x1="304.90" y1="263.63" x2="309.30" y2="263.63" stroke="#111" stroke-width="1"/>
<line x1="304.90" y1="268.59" x2="309.30" y2="268.59" stroke="#111" stroke-width="1"/>
<line x1="316.10" y1="272.87" x2="326.90" y2="272.87" stroke="#111" stroke-width="1.1"/>
<line x1="321.50" y1="270.39" x2="321.50" y2="275.35" stroke="#111" stroke-width="1"/>
<line x1="319.30" y1="270.39" x2="323.70" y2="270.39" stroke="#111" stroke-width="1"/>
<line x1="319.30" y1="275.35" x2="323.70" y2="275.35" stroke="#111" stroke-width="1"/>
<line x1="341.60" y1="324.69" x2="352.40" y2="324.69" stroke="#111" stroke-width="1.1"/>
<line x1="347.00" y1="323.57" x2="347.00" y2="325.82" stroke="#111" stroke-width="1"/>
<line x1="344.80" y1="323.57" x2="349.20" y2="323.57" stroke="#111" stroke-width="1"/>
<line x1="344.80" y1="325.82" x2="349.20" y2="325.82" stroke="#111" stroke-width="1"/>
<line x1="355.60" y1="325.14" x2="366.40" y2="325.14" stroke="#111" stroke-width="1.1"/>
<line x1="361.00" y1="324.02" x2="361.00" y2="326.27" stroke="#111" stroke-width="1"/>
<line x1="358.80" y1="324.02" x2="363.20" y2="324.02" stroke="#111" stroke-width="1"/>
<line x1="358.80" y1="326.27" x2="363.20" y2="326.27" stroke="#111" stroke-width="1"/>
<text x="7.90" y="368.60" font-size="12" text-anchor="start" font-weight="bold" fill="#000" stroke="#000" stroke-width="0.55" >F</text>
<line x1="51.60" y1="370.80" x2="51.60" y2="491.30" stroke="#222" stroke-width="1.1"/>
<line x1="48.10" y1="372.54" x2="51.60" y2="372.54" stroke="#222" stroke-width="1.1"/>
<text x="44.90" y="374.94" font-size="7.0" text-anchor="end" font-weight="normal" fill="#222" stroke="#222" stroke-width="0.18" >100</text>
<line x1="48.10" y1="400.93" x2="51.60" y2="400.93" stroke="#222" stroke-width="1.1"/>
<text x="44.90" y="403.33" font-size="7.0" text-anchor="end" font-weight="normal" fill="#222" stroke="#222" stroke-width="0.18" >75</text>
<line x1="48.10" y1="429.32" x2="51.60" y2="429.32" stroke="#222" stroke-width="1.1"/>
<text x="44.90" y="431.72" font-size="7.0" text-anchor="end" font-weight="normal" fill="#222" stroke="#222" stroke-width="0.18" >50</text>
<line x1="48.10" y1="457.71" x2="51.60" y2="457.71" stroke="#222" stroke-width="1.1"/>
<text x="44.90" y="460.11" font-size="7.0" text-anchor="end" font-weight="normal" fill="#222" stroke="#222" stroke-width="0.18" >25</text>
<line x1="48.10" y1="486.10" x2="51.60" y2="486.10" stroke="#222" stroke-width="1.1"/>
<text x="44.90" y="488.50" font-size="7.0" text-anchor="end" font-weight="normal" fill="#222" stroke="#222" stroke-width="0.18" >0</text>
<line x1="51.10" y1="491.20" x2="170.70" y2="491.20" stroke="#222" stroke-width="1.2"/>
<line x1="71.30" y1="491.20" x2="71.30" y2="494.20" stroke="#222" stroke-width="1"/>
<line x1="110.40" y1="491.20" x2="110.40" y2="494.20" stroke="#222" stroke-width="1"/>
<line x1="149.90" y1="491.20" x2="149.90" y2="494.20" stroke="#222" stroke-width="1"/>
<text x="71.50" y="503.40" font-size="6.6" text-anchor="middle" font-weight="normal" fill="#222" stroke="#222" stroke-width="0.18" >Myeloid</text>
<text x="110.60" y="503.40" font-size="6.6" text-anchor="middle" font-weight="normal" fill="#222" stroke="#222" stroke-width="0.18" >Erythroid</text>
<text x="150.00" y="503.40" font-size="6.6" text-anchor="middle" font-weight="normal" fill="#222" stroke="#222" stroke-width="0.18" >Mixed</text>
<text transform="translate(28.7,430.6) rotate(-90)" font-size="8.3" text-anchor="middle" fill="#222" stroke="#222" stroke-width="0.25" textLength="30.3" lengthAdjust="spacingAndGlyphs">% of CFUs</text>
<path d="M58.30 376.20V372.60H80.70V376.20" fill="none" stroke="#222" stroke-width="0.9"/>
<text x="69.50" y="377.60" font-size="4.6" text-anchor="middle" font-weight="normal" fill="#333" stroke="#333" stroke-width="0.1" >0.32</text>
<path d="M58.30 382.50V379.10H80.70V382.50" fill="none" stroke="#222" stroke-width="0.9"/>
<line x1="70.10" y1="379.10" x2="70.10" y2="382.50" stroke="#222" stroke-width="1.2"/>
<text x="64.50" y="386.60" font-size="4.6" text-anchor="middle" font-weight="normal" fill="#333" stroke="#333" stroke-width="0.1" >0.027</text>
<text x="75.40" y="386.60" font-size="4.6" text-anchor="middle" font-weight="normal" fill="#333" stroke="#333" stroke-width="0.1" >0.32</text>
<path d="M97.30 376.20V372.60H119.90V376.20" fill="none" stroke="#222" stroke-width="0.9"/>
<text x="108.60" y="377.60" font-size="4.6" text-anchor="middle" font-weight="normal" fill="#333" stroke="#333" stroke-width="0.1" >0.39</text>
<path d="M97.30 382.50V379.10H119.90V382.50" fill="none" stroke="#222" stroke-width="0.9"/>
<line x1="109.90" y1="379.10" x2="109.90" y2="382.50" stroke="#222" stroke-width="1.2"/>
<text x="103.90" y="386.60" font-size="4.6" text-anchor="middle" font-weight="normal" fill="#333" stroke="#333" stroke-width="0.1" >0.031</text>
<text x="114.90" y="386.60" font-size="4.6" text-anchor="middle" font-weight="normal" fill="#333" stroke="#333" stroke-width="0.1" >0.41</text>
<path d="M137.30 376.20V372.60H159.90V376.20" fill="none" stroke="#222" stroke-width="0.9"/>
<text x="148.60" y="377.60" font-size="4.6" text-anchor="middle" font-weight="normal" fill="#333" stroke="#333" stroke-width="0.1" >0.71</text>
<path d="M137.30 382.50V379.10H159.90V382.50" fill="none" stroke="#222" stroke-width="0.9"/>
<line x1="148.80" y1="379.10" x2="148.80" y2="382.50" stroke="#222" stroke-width="1.2"/>
<text x="143.35" y="386.60" font-size="4.6" text-anchor="middle" font-weight="normal" fill="#333" stroke="#333" stroke-width="0.1" >0.71</text>
<text x="154.35" y="386.60" font-size="4.6" text-anchor="middle" font-weight="normal" fill="#333" stroke="#333" stroke-width="0.1" >0.47</text>
<circle cx="175.00" cy="373.30" r="1.3" fill="#1d3d8c" stroke="#0f1f48" stroke-width="0.6"/>
<text x="179.80" y="375.30" font-size="5.45" text-anchor="start" font-weight="normal" fill="#222" stroke="#222" stroke-width="0.1" >Healthy Controls</text>
<rect x="173.80" y="381.30" width="2.4" height="2.4" fill="#5bae3b" stroke="#2a6618" stroke-width="0.4"/>
<text x="179.80" y="384.50" font-size="5.45" text-anchor="start" font-weight="normal" fill="#222" stroke="#222" stroke-width="0.1" >Naive CLL</text>
<path d="M175.00 390.79L176.40 393.31L173.60 393.31Z" fill="#b3102b" stroke="#640818" stroke-width="0.3"/>
<text x="179.80" y="394.30" font-size="5.45" text-anchor="start" font-weight="normal" fill="#222" stroke="#222" stroke-width="0.1" >Previously Treated CLL</text>
<circle cx="60.60" cy="424.61" r="1.05" fill="#1d3d8c" stroke="#0f1f48" stroke-width="0.4"/>
<circle cx="60.07" cy="429.05" r="1.05" fill="#1d3d8c" stroke="#0f1f48" stroke-width="0.4"/>
<circle cx="61.57" cy="431.06" r="1.05" fill="#1d3d8c" stroke="#0f1f48" stroke-width="0.4"/>
<circle cx="60.07" cy="432.68" r="1.05" fill="#1d3d8c" stroke="#0f1f48" stroke-width="0.4"/>
<circle cx="61.57" cy="434.99" r="1.05" fill="#1d3d8c" stroke="#0f1f48" stroke-width="0.4"/>
<circle cx="60.07" cy="436.61" r="1.05" fill="#1d3d8c" stroke="#0f1f48" stroke-width="0.4"/>
<circle cx="61.57" cy="438.62" r="1.05" fill="#1d3d8c" stroke="#0f1f48" stroke-width="0.4"/>
<circle cx="60.07" cy="439.93" r="1.05" fill="#1d3d8c" stroke="#0f1f48" stroke-width="0.4"/>
<circle cx="57.67" cy="441.75" r="1.05" fill="#1d3d8c" stroke="#0f1f48" stroke-width="0.4"/>
<circle cx="61.57" cy="441.75" r="1.05" fill="#1d3d8c" stroke="#0f1f48" stroke-width="0.4"/>
<circle cx="57.07" cy="443.97" r="1.05" fill="#1d3d8c" stroke="#0f1f48" stroke-width="0.4"/>
<circle cx="58.65" cy="443.36" r="1.05" fill="#1d3d8c" stroke="#0f1f48" stroke-width="0.4"/>
<circle cx="63.75" cy="444.47" r="1.05" fill="#1d3d8c" stroke="#0f1f48" stroke-width="0.4"/>
<circle cx="64.50" cy="445.07" r="1.05" fill="#1d3d8c" stroke="#0f1f48" stroke-width="0.4"/>
<circle cx="58.20" cy="445.48" r="1.05" fill="#1d3d8c" stroke="#0f1f48" stroke-width="0.4"/>
<circle cx="59.70" cy="445.98" r="1.05" fill="#1d3d8c" stroke="#0f1f48" stroke-width="0.4"/>
<circle cx="61.73" cy="446.08" r="1.05" fill="#1d3d8c" stroke="#0f1f48" stroke-width="0.4"/>
<circle cx="62.70" cy="445.07" r="1.05" fill="#1d3d8c" stroke="#0f1f48" stroke-width="0.4"/>
<circle cx="60.60" cy="464.73" r="1.05" fill="#1d3d8c" stroke="#0f1f48" stroke-width="0.4"/>
<circle cx="99.95" cy="395.58" r="1.05" fill="#1d3d8c" stroke="#0f1f48" stroke-width="0.4"/>
<circle cx="101.15" cy="413.02" r="1.05" fill="#1d3d8c" stroke="#0f1f48" stroke-width="0.4"/>
<circle cx="103.47" cy="414.73" r="1.05" fill="#1d3d8c" stroke="#0f1f48" stroke-width="0.4"/>
<circle cx="98.90" cy="416.75" r="1.05" fill="#1d3d8c" stroke="#0f1f48" stroke-width="0.4"/>
<circle cx="101.15" cy="416.75" r="1.05" fill="#1d3d8c" stroke="#0f1f48" stroke-width="0.4"/>
<circle cx="103.47" cy="418.46" r="1.05" fill="#1d3d8c" stroke="#0f1f48" stroke-width="0.4"/>
<circle cx="96.72" cy="418.97" r="1.05" fill="#1d3d8c" stroke="#0f1f48" stroke-width="0.4"/>
<circle cx="99.12" cy="420.78" r="1.05" fill="#1d3d8c" stroke="#0f1f48" stroke-width="0.4"/>
<circle cx="101.15" cy="420.78" r="1.05" fill="#1d3d8c" stroke="#0f1f48" stroke-width="0.4"/>
<circle cx="99.12" cy="424.21" r="1.05" fill="#1d3d8c" stroke="#0f1f48" stroke-width="0.4"/>
<circle cx="101.15" cy="423.50" r="1.05" fill="#1d3d8c" stroke="#0f1f48" stroke-width="0.4"/>
<circle cx="96.72" cy="426.93" r="1.05" fill="#1d3d8c" stroke="#0f1f48" stroke-width="0.4"/>
<circle cx="103.47" cy="426.93" r="1.05" fill="#1d3d8c" stroke="#0f1f48" stroke-width="0.4"/>
<circle cx="96.72" cy="429.65" r="1.05" fill="#1d3d8c" stroke="#0f1f48" stroke-width="0.4"/>
<circle cx="98.90" cy="430.26" r="1.05" fill="#1d3d8c" stroke="#0f1f48" stroke-width="0.4"/>
<circle cx="101.15" cy="429.25" r="1.05" fill="#1d3d8c" stroke="#0f1f48" stroke-width="0.4"/>
<circle cx="100.17" cy="433.68" r="1.05" fill="#1d3d8c" stroke="#0f1f48" stroke-width="0.4"/>
<circle cx="100.17" cy="437.01" r="1.05" fill="#1d3d8c" stroke="#0f1f48" stroke-width="0.4"/>
<rect x="70.36" y="386.36" width="1.8900000000000001" height="1.8900000000000001" fill="#5bae3b" stroke="#2a6618" stroke-width="0.45"/>
<rect x="70.36" y="390.90" width="1.8900000000000001" height="1.8900000000000001" fill="#5bae3b" stroke="#2a6618" stroke-width="0.45"/>
<rect x="69.31" y="405.66" width="1.8900000000000001" height="1.8900000000000001" fill="#5bae3b" stroke="#2a6618" stroke-width="0.45"/>
<rect x="71.41" y="407.10" width="1.8900000000000001" height="1.8900000000000001" fill="#5bae3b" stroke="#2a6618" stroke-width="0.45"/>
<rect x="69.31" y="411.85" width="1.8900000000000001" height="1.8900000000000001" fill="#5bae3b" stroke="#2a6618" stroke-width="0.45"/>
<rect x="71.41" y="412.43" width="1.8900000000000001" height="1.8900000000000001" fill="#5bae3b" stroke="#2a6618" stroke-width="0.45"/>
<rect x="70.36" y="415.40" width="1.8900000000000001" height="1.8900000000000001" fill="#5bae3b" stroke="#2a6618" stroke-width="0.45"/>
<rect x="73.51" y="417.39" width="1.8900000000000001" height="1.8900000000000001" fill="#5bae3b" stroke="#2a6618" stroke-width="0.45"/>
<rect x="69.31" y="417.46" width="1.8900000000000001" height="1.8900000000000001" fill="#5bae3b" stroke="#2a6618" stroke-width="0.45"/>
<rect x="67.20" y="417.65" width="1.8900000000000001" height="1.8900000000000001" fill="#5bae3b" stroke="#2a6618" stroke-width="0.45"/>
<rect x="71.41" y="419.03" width="1.8900000000000001" height="1.8900000000000001" fill="#5bae3b" stroke="#2a6618" stroke-width="0.45"/>
<rect x="72.45" y="419.21" width="1.8900000000000001" height="1.8900000000000001" fill="#5bae3b" stroke="#2a6618" stroke-width="0.45"/>
<rect x="70.36" y="419.58" width="1.8900000000000001" height="1.8900000000000001" fill="#5bae3b" stroke="#2a6618" stroke-width="0.45"/>
<rect x="68.26" y="420.85" width="1.8900000000000001" height="1.8900000000000001" fill="#5bae3b" stroke="#2a6618" stroke-width="0.45"/>
<rect x="69.31" y="422.10" width="1.8900000000000001" height="1.8900000000000001" fill="#5bae3b" stroke="#2a6618" stroke-width="0.45"/>
<rect x="71.41" y="422.36" width="1.8900000000000001" height="1.8900000000000001" fill="#5bae3b" stroke="#2a6618" stroke-width="0.45"/>
<rect x="69.31" y="424.62" width="1.8900000000000001" height="1.8900000000000001" fill="#5bae3b" stroke="#2a6618" stroke-width="0.45"/>
<rect x="71.41" y="424.80" width="1.8900000000000001" height="1.8900000000000001" fill="#5bae3b" stroke="#2a6618" stroke-width="0.45"/>
<rect x="69.31" y="427.14" width="1.8900000000000001" height="1.8900000000000001" fill="#5bae3b" stroke="#2a6618" stroke-width="0.45"/>
<rect x="67.20" y="427.15" width="1.8900000000000001" height="1.8900000000000001" fill="#5bae3b" stroke="#2a6618" stroke-width="0.45"/>
<rect x="71.41" y="427.95" width="1.8900000000000001" height="1.8900000000000001" fill="#5bae3b" stroke="#2a6618" stroke-width="0.45"/>
<rect x="73.51" y="428.33" width="1.8900000000000001" height="1.8900000000000001" fill="#5bae3b" stroke="#2a6618" stroke-width="0.45"/>
<rect x="69.31" y="429.91" width="1.8900000000000001" height="1.8900000000000001" fill="#5bae3b" stroke="#2a6618" stroke-width="0.45"/>
<rect x="73.51" y="431.04" width="1.8900000000000001" height="1.8900000000000001" fill="#5bae3b" stroke="#2a6618" stroke-width="0.45"/>
<rect x="71.41" y="431.22" width="1.8900000000000001" height="1.8900000000000001" fill="#5bae3b" stroke="#2a6618" stroke-width="0.45"/>
<rect x="67.20" y="431.43" width="1.8900000000000001" height="1.8900000000000001" fill="#5bae3b" stroke="#2a6618" stroke-width="0.45"/>
<rect x="68.26" y="432.43" width="1.8900000000000001" height="1.8900000000000001" fill="#5bae3b" stroke="#2a6618" stroke-width="0.45"/>
<rect x="72.45" y="432.86" width="1.8900000000000001" height="1.8900000000000001" fill="#5bae3b" stroke="#2a6618" stroke-width="0.45"/>
<rect x="70.36" y="433.21" width="1.8900000000000001" height="1.8900000000000001" fill="#5bae3b" stroke="#2a6618" stroke-width="0.45"/>
<rect x="74.56" y="434.73" width="1.8900000000000001" height="1.8900000000000001" fill="#5bae3b" stroke="#2a6618" stroke-width="0.45"/>
<rect x="72.45" y="435.76" width="1.8900000000000001" height="1.8900000000000001" fill="#5bae3b" stroke="#2a6618" stroke-width="0.45"/>
<rect x="66.16" y="436.01" width="1.8900000000000001" height="1.8900000000000001" fill="#5bae3b" stroke="#2a6618" stroke-width="0.45"/>
<rect x="70.36" y="436.14" width="1.8900000000000001" height="1.8900000000000001" fill="#5bae3b" stroke="#2a6618" stroke-width="0.45"/>
<rect x="68.26" y="436.15" width="1.8900000000000001" height="1.8900000000000001" fill="#5bae3b" stroke="#2a6618" stroke-width="0.45"/>
<rect x="70.36" y="436.97" width="1.8900000000000001" height="1.8900000000000001" fill="#5bae3b" stroke="#2a6618" stroke-width="0.45"/>
<rect x="68.26" y="437.43" width="1.8900000000000001" height="1.8900000000000001" fill="#5bae3b" stroke="#2a6618" stroke-width="0.45"/>
<rect x="72.45" y="438.53" width="1.8900000000000001" height="1.8900000000000001" fill="#5bae3b" stroke="#2a6618" stroke-width="0.45"/>
<rect x="71.41" y="440.09" width="1.8900000000000001" height="1.8900000000000001" fill="#5bae3b" stroke="#2a6618" stroke-width="0.45"/>
<rect x="69.31" y="441.20" width="1.8900000000000001" height="1.8900000000000001" fill="#5bae3b" stroke="#2a6618" stroke-width="0.45"/>
<rect x="69.31" y="441.82" width="1.8900000000000001" height="1.8900000000000001" fill="#5bae3b" stroke="#2a6618" stroke-width="0.45"/>
<rect x="71.41" y="442.50" width="1.8900000000000001" height="1.8900000000000001" fill="#5bae3b" stroke="#2a6618" stroke-width="0.45"/>
<rect x="68.26" y="443.93" width="1.8900000000000001" height="1.8900000000000001" fill="#5bae3b" stroke="#2a6618" stroke-width="0.45"/>
<rect x="70.36" y="445.15" width="1.8900000000000001" height="1.8900000000000001" fill="#5bae3b" stroke="#2a6618" stroke-width="0.45"/>
<rect x="72.45" y="445.44" width="1.8900000000000001" height="1.8900000000000001" fill="#5bae3b" stroke="#2a6618" stroke-width="0.45"/>
<rect x="70.36" y="446.10" width="1.8900000000000001" height="1.8900000000000001" fill="#5bae3b" stroke="#2a6618" stroke-width="0.45"/>
<rect x="70.36" y="448.10" width="1.8900000000000001" height="1.8900000000000001" fill="#5bae3b" stroke="#2a6618" stroke-width="0.45"/>
<rect x="72.45" y="448.49" width="1.8900000000000001" height="1.8900000000000001" fill="#5bae3b" stroke="#2a6618" stroke-width="0.45"/>
<rect x="68.26" y="449.63" width="1.8900000000000001" height="1.8900000000000001" fill="#5bae3b" stroke="#2a6618" stroke-width="0.45"/>
<rect x="69.31" y="450.37" width="1.8900000000000001" height="1.8900000000000001" fill="#5bae3b" stroke="#2a6618" stroke-width="0.45"/>
<rect x="71.41" y="450.50" width="1.8900000000000001" height="1.8900000000000001" fill="#5bae3b" stroke="#2a6618" stroke-width="0.45"/>
<rect x="75.61" y="450.55" width="1.8900000000000001" height="1.8900000000000001" fill="#5bae3b" stroke="#2a6618" stroke-width="0.45"/>
<rect x="67.20" y="450.68" width="1.8900000000000001" height="1.8900000000000001" fill="#5bae3b" stroke="#2a6618" stroke-width="0.45"/>
<rect x="73.51" y="451.60" width="1.8900000000000001" height="1.8900000000000001" fill="#5bae3b" stroke="#2a6618" stroke-width="0.45"/>
<rect x="65.11" y="451.91" width="1.8900000000000001" height="1.8900000000000001" fill="#5bae3b" stroke="#2a6618" stroke-width="0.45"/>
<rect x="72.45" y="452.79" width="1.8900000000000001" height="1.8900000000000001" fill="#5bae3b" stroke="#2a6618" stroke-width="0.45"/>
<rect x="68.26" y="453.75" width="1.8900000000000001" height="1.8900000000000001" fill="#5bae3b" stroke="#2a6618" stroke-width="0.45"/>
<rect x="70.36" y="454.34" width="1.8900000000000001" height="1.8900000000000001" fill="#5bae3b" stroke="#2a6618" stroke-width="0.45"/>
<rect x="70.36" y="454.49" width="1.8900000000000001" height="1.8900000000000001" fill="#5bae3b" stroke="#2a6618" stroke-width="0.45"/>
<path d="M81.70 406.66L83.02 409.04L80.38 409.04Z" fill="#b3102b" stroke="#640818" stroke-width="0.4"/>
<path d="M81.70 410.86L83.02 413.24L80.38 413.24Z" fill="#b3102b" stroke="#640818" stroke-width="0.4"/>
<path d="M81.70 413.92L83.02 416.30L80.38 416.30Z" fill="#b3102b" stroke="#640818" stroke-width="0.4"/>
<path d="M80.55 432.43L81.87 434.81L79.23 434.81Z" fill="#b3102b" stroke="#640818" stroke-width="0.4"/>
<path d="M82.85 433.57L84.17 435.95L81.53 435.95Z" fill="#b3102b" stroke="#640818" stroke-width="0.4"/>
<path d="M80.55 440.84L81.87 443.22L79.23 443.22Z" fill="#b3102b" stroke="#640818" stroke-width="0.4"/>
<path d="M82.85 441.86L84.17 444.24L81.53 444.24Z" fill="#b3102b" stroke="#640818" stroke-width="0.4"/>
<path d="M82.85 444.24L84.17 446.62L81.53 446.62Z" fill="#b3102b" stroke="#640818" stroke-width="0.4"/>
<path d="M80.55 445.38L81.87 447.76L79.23 447.76Z" fill="#b3102b" stroke="#640818" stroke-width="0.4"/>
<path d="M82.85 447.20L84.17 449.58L81.53 449.58Z" fill="#b3102b" stroke="#640818" stroke-width="0.4"/>
<path d="M80.55 448.79L81.87 451.17L79.23 451.17Z" fill="#b3102b" stroke="#640818" stroke-width="0.4"/>
<path d="M81.70 452.87L83.02 455.26L80.38 455.26Z" fill="#b3102b" stroke="#640818" stroke-width="0.4"/>
<rect x="109.26" y="402.26" width="1.8900000000000001" height="1.8900000000000001" fill="#5bae3b" stroke="#2a6618" stroke-width="0.45"/>
<rect x="110.31" y="410.20" width="1.8900000000000001" height="1.8900000000000001" fill="#5bae3b" stroke="#2a6618" stroke-width="0.45"/>
<rect x="108.21" y="411.64" width="1.8900000000000001" height="1.8900000000000001" fill="#5bae3b" stroke="#2a6618" stroke-width="0.45"/>
<rect x="109.26" y="412.90" width="1.8900000000000001" height="1.8900000000000001" fill="#5bae3b" stroke="#2a6618" stroke-width="0.45"/>
<rect x="109.26" y="415.24" width="1.8900000000000001" height="1.8900000000000001" fill="#5bae3b" stroke="#2a6618" stroke-width="0.45"/>
<rect x="111.36" y="415.48" width="1.8900000000000001" height="1.8900000000000001" fill="#5bae3b" stroke="#2a6618" stroke-width="0.45"/>
<rect x="107.16" y="416.17" width="1.8900000000000001" height="1.8900000000000001" fill="#5bae3b" stroke="#2a6618" stroke-width="0.45"/>
<rect x="109.26" y="417.94" width="1.8900000000000001" height="1.8900000000000001" fill="#5bae3b" stroke="#2a6618" stroke-width="0.45"/>
<rect x="111.36" y="418.04" width="1.8900000000000001" height="1.8900000000000001" fill="#5bae3b" stroke="#2a6618" stroke-width="0.45"/>
<rect x="107.16" y="419.58" width="1.8900000000000001" height="1.8900000000000001" fill="#5bae3b" stroke="#2a6618" stroke-width="0.45"/>
<rect x="110.31" y="419.71" width="1.8900000000000001" height="1.8900000000000001" fill="#5bae3b" stroke="#2a6618" stroke-width="0.45"/>
<rect x="108.21" y="420.28" width="1.8900000000000001" height="1.8900000000000001" fill="#5bae3b" stroke="#2a6618" stroke-width="0.45"/>
<rect x="109.26" y="421.53" width="1.8900000000000001" height="1.8900000000000001" fill="#5bae3b" stroke="#2a6618" stroke-width="0.45"/>
<rect x="111.36" y="422.06" width="1.8900000000000001" height="1.8900000000000001" fill="#5bae3b" stroke="#2a6618" stroke-width="0.45"/>
<rect x="107.16" y="423.21" width="1.8900000000000001" height="1.8900000000000001" fill="#5bae3b" stroke="#2a6618" stroke-width="0.45"/>
<rect x="108.21" y="423.96" width="1.8900000000000001" height="1.8900000000000001" fill="#5bae3b" stroke="#2a6618" stroke-width="0.45"/>
<rect x="112.41" y="424.39" width="1.8900000000000001" height="1.8900000000000001" fill="#5bae3b" stroke="#2a6618" stroke-width="0.45"/>
<rect x="106.11" y="424.51" width="1.8900000000000001" height="1.8900000000000001" fill="#5bae3b" stroke="#2a6618" stroke-width="0.45"/>
<rect x="110.31" y="425.42" width="1.8900000000000001" height="1.8900000000000001" fill="#5bae3b" stroke="#2a6618" stroke-width="0.45"/>
<rect x="107.16" y="426.92" width="1.8900000000000001" height="1.8900000000000001" fill="#5bae3b" stroke="#2a6618" stroke-width="0.45"/>
<rect x="111.36" y="427.93" width="1.8900000000000001" height="1.8900000000000001" fill="#5bae3b" stroke="#2a6618" stroke-width="0.45"/>
<rect x="109.26" y="428.03" width="1.8900000000000001" height="1.8900000000000001" fill="#5bae3b" stroke="#2a6618" stroke-width="0.45"/>
<rect x="107.16" y="429.13" width="1.8900000000000001" height="1.8900000000000001" fill="#5bae3b" stroke="#2a6618" stroke-width="0.45"/>
<rect x="109.26" y="429.83" width="1.8900000000000001" height="1.8900000000000001" fill="#5bae3b" stroke="#2a6618" stroke-width="0.45"/>
<rect x="111.36" y="429.87" width="1.8900000000000001" height="1.8900000000000001" fill="#5bae3b" stroke="#2a6618" stroke-width="0.45"/>
<rect x="107.16" y="431.29" width="1.8900000000000001" height="1.8900000000000001" fill="#5bae3b" stroke="#2a6618" stroke-width="0.45"/>
<rect x="111.36" y="431.90" width="1.8900000000000001" height="1.8900000000000001" fill="#5bae3b" stroke="#2a6618" stroke-width="0.45"/>
<rect x="109.26" y="432.64" width="1.8900000000000001" height="1.8900000000000001" fill="#5bae3b" stroke="#2a6618" stroke-width="0.45"/>
<rect x="112.41" y="433.24" width="1.8900000000000001" height="1.8900000000000001" fill="#5bae3b" stroke="#2a6618" stroke-width="0.45"/>
<rect x="110.31" y="433.95" width="1.8900000000000001" height="1.8900000000000001" fill="#5bae3b" stroke="#2a6618" stroke-width="0.45"/>
<rect x="104.01" y="434.00" width="1.8900000000000001" height="1.8900000000000001" fill="#5bae3b" stroke="#2a6618" stroke-width="0.45"/>
<rect x="106.11" y="434.50" width="1.8900000000000001" height="1.8900000000000001" fill="#5bae3b" stroke="#2a6618" stroke-width="0.45"/>
<rect x="114.51" y="434.64" width="1.8900000000000001" height="1.8900000000000001" fill="#5bae3b" stroke="#2a6618" stroke-width="0.45"/>
<rect x="108.21" y="434.71" width="1.8900000000000001" height="1.8900000000000001" fill="#5bae3b" stroke="#2a6618" stroke-width="0.45"/>
<rect x="108.21" y="435.57" width="1.8900000000000001" height="1.8900000000000001" fill="#5bae3b" stroke="#2a6618" stroke-width="0.45"/>
<rect x="110.31" y="436.42" width="1.8900000000000001" height="1.8900000000000001" fill="#5bae3b" stroke="#2a6618" stroke-width="0.45"/>
<rect x="111.36" y="437.81" width="1.8900000000000001" height="1.8900000000000001" fill="#5bae3b" stroke="#2a6618" stroke-width="0.45"/>
<rect x="109.26" y="438.12" width="1.8900000000000001" height="1.8900000000000001" fill="#5bae3b" stroke="#2a6618" stroke-width="0.45"/>
<rect x="107.16" y="438.83" width="1.8900000000000001" height="1.8900000000000001" fill="#5bae3b" stroke="#2a6618" stroke-width="0.45"/>
<rect x="110.31" y="440.29" width="1.8900000000000001" height="1.8900000000000001" fill="#5bae3b" stroke="#2a6618" stroke-width="0.45"/>
<rect x="108.21" y="440.49" width="1.8900000000000001" height="1.8900000000000001" fill="#5bae3b" stroke="#2a6618" stroke-width="0.45"/>
<rect x="106.11" y="441.14" width="1.8900000000000001" height="1.8900000000000001" fill="#5bae3b" stroke="#2a6618" stroke-width="0.45"/>
<rect x="112.41" y="441.20" width="1.8900000000000001" height="1.8900000000000001" fill="#5bae3b" stroke="#2a6618" stroke-width="0.45"/>
<rect x="107.16" y="442.09" width="1.8900000000000001" height="1.8900000000000001" fill="#5bae3b" stroke="#2a6618" stroke-width="0.45"/>
<rect x="111.36" y="442.55" width="1.8900000000000001" height="1.8900000000000001" fill="#5bae3b" stroke="#2a6618" stroke-width="0.45"/>
<rect x="109.26" y="443.60" width="1.8900000000000001" height="1.8900000000000001" fill="#5bae3b" stroke="#2a6618" stroke-width="0.45"/>
<rect x="111.36" y="443.79" width="1.8900000000000001" height="1.8900000000000001" fill="#5bae3b" stroke="#2a6618" stroke-width="0.45"/>
<rect x="109.26" y="443.92" width="1.8900000000000001" height="1.8900000000000001" fill="#5bae3b" stroke="#2a6618" stroke-width="0.45"/>
<rect x="107.16" y="444.97" width="1.8900000000000001" height="1.8900000000000001" fill="#5bae3b" stroke="#2a6618" stroke-width="0.45"/>
<rect x="107.16" y="445.57" width="1.8900000000000001" height="1.8900000000000001" fill="#5bae3b" stroke="#2a6618" stroke-width="0.45"/>
<rect x="109.26" y="447.00" width="1.8900000000000001" height="1.8900000000000001" fill="#5bae3b" stroke="#2a6618" stroke-width="0.45"/>
<rect x="111.36" y="447.11" width="1.8900000000000001" height="1.8900000000000001" fill="#5bae3b" stroke="#2a6618" stroke-width="0.45"/>
<rect x="107.16" y="451.65" width="1.8900000000000001" height="1.8900000000000001" fill="#5bae3b" stroke="#2a6618" stroke-width="0.45"/>
<rect x="111.36" y="451.67" width="1.8900000000000001" height="1.8900000000000001" fill="#5bae3b" stroke="#2a6618" stroke-width="0.45"/>
<rect x="109.26" y="452.58" width="1.8900000000000001" height="1.8900000000000001" fill="#5bae3b" stroke="#2a6618" stroke-width="0.45"/>
<rect x="109.26" y="454.49" width="1.8900000000000001" height="1.8900000000000001" fill="#5bae3b" stroke="#2a6618" stroke-width="0.45"/>
<rect x="109.26" y="468.92" width="1.8900000000000001" height="1.8900000000000001" fill="#5bae3b" stroke="#2a6618" stroke-width="0.45"/>
<rect x="109.26" y="471.64" width="1.8900000000000001" height="1.8900000000000001" fill="#5bae3b" stroke="#2a6618" stroke-width="0.45"/>
<path d="M120.90 409.84L122.22 412.22L119.58 412.22Z" fill="#b3102b" stroke="#640818" stroke-width="0.4"/>
<path d="M118.60 412.90L119.92 415.28L117.28 415.28Z" fill="#b3102b" stroke="#640818" stroke-width="0.4"/>
<path d="M123.20 413.81L124.52 416.19L121.88 416.19Z" fill="#b3102b" stroke="#640818" stroke-width="0.4"/>
<path d="M120.90 414.49L122.22 416.87L119.58 416.87Z" fill="#b3102b" stroke="#640818" stroke-width="0.4"/>
<path d="M119.75 418.35L121.07 420.73L118.43 420.73Z" fill="#b3102b" stroke="#640818" stroke-width="0.4"/>
<path d="M122.05 419.15L123.37 421.53L120.73 421.53Z" fill="#b3102b" stroke="#640818" stroke-width="0.4"/>
<path d="M120.90 422.10L122.22 424.48L119.58 424.48Z" fill="#b3102b" stroke="#640818" stroke-width="0.4"/>
<path d="M120.90 426.87L122.22 429.25L119.58 429.25Z" fill="#b3102b" stroke="#640818" stroke-width="0.4"/>
<path d="M119.75 445.61L121.07 447.99L118.43 447.99Z" fill="#b3102b" stroke="#640818" stroke-width="0.4"/>
<path d="M122.05 446.97L123.37 449.35L120.73 449.35Z" fill="#b3102b" stroke="#640818" stroke-width="0.4"/>
<path d="M120.90 454.35L122.22 456.73L119.58 456.73Z" fill="#b3102b" stroke="#640818" stroke-width="0.4"/>
<circle cx="136.45" cy="476.88" r="1.0" fill="#1d3d8c" stroke="#0f1f48" stroke-width="0.42"/>
<circle cx="140.65" cy="477.32" r="1.0" fill="#1d3d8c" stroke="#0f1f48" stroke-width="0.42"/>
<circle cx="138.55" cy="477.66" r="1.0" fill="#1d3d8c" stroke="#0f1f48" stroke-width="0.42"/>
<circle cx="142.75" cy="477.69" r="1.0" fill="#1d3d8c" stroke="#0f1f48" stroke-width="0.42"/>
<circle cx="141.70" cy="478.32" r="1.0" fill="#1d3d8c" stroke="#0f1f48" stroke-width="0.42"/>
<circle cx="137.50" cy="478.93" r="1.0" fill="#1d3d8c" stroke="#0f1f48" stroke-width="0.42"/>
<circle cx="139.60" cy="479.31" r="1.0" fill="#1d3d8c" stroke="#0f1f48" stroke-width="0.42"/>
<circle cx="138.55" cy="481.36" r="1.0" fill="#1d3d8c" stroke="#0f1f48" stroke-width="0.42"/>
<circle cx="142.75" cy="481.88" r="1.0" fill="#1d3d8c" stroke="#0f1f48" stroke-width="0.42"/>
<circle cx="136.45" cy="482.11" r="1.0" fill="#1d3d8c" stroke="#0f1f48" stroke-width="0.42"/>
<circle cx="140.65" cy="482.33" r="1.0" fill="#1d3d8c" stroke="#0f1f48" stroke-width="0.42"/>
<circle cx="136.45" cy="482.43" r="1.0" fill="#1d3d8c" stroke="#0f1f48" stroke-width="0.42"/>
<circle cx="140.65" cy="482.71" r="1.0" fill="#1d3d8c" stroke="#0f1f48" stroke-width="0.42"/>
<circle cx="142.75" cy="483.25" r="1.0" fill="#1d3d8c" stroke="#0f1f48" stroke-width="0.42"/>
<circle cx="138.55" cy="483.71" r="1.0" fill="#1d3d8c" stroke="#0f1f48" stroke-width="0.42"/>
<circle cx="138.55" cy="484.46" r="1.0" fill="#1d3d8c" stroke="#0f1f48" stroke-width="0.42"/>
<circle cx="140.65" cy="484.55" r="1.0" fill="#1d3d8c" stroke="#0f1f48" stroke-width="0.42"/>
<circle cx="139.60" cy="486.50" r="1.0" fill="#1d3d8c" stroke="#0f1f48" stroke-width="0.42"/>
<rect x="149.71" y="472.66" width="1.8900000000000001" height="1.8900000000000001" fill="#5bae3b" stroke="#2a6618" stroke-width="0.45"/>
<rect x="147.60" y="473.80" width="1.8900000000000001" height="1.8900000000000001" fill="#5bae3b" stroke="#2a6618" stroke-width="0.45"/>
<rect x="151.81" y="474.93" width="1.8900000000000001" height="1.8900000000000001" fill="#5bae3b" stroke="#2a6618" stroke-width="0.45"/>
<rect x="147.60" y="476.31" width="1.8900000000000001" height="1.8900000000000001" fill="#5bae3b" stroke="#2a6618" stroke-width="0.45"/>
<rect x="149.71" y="476.39" width="1.8900000000000001" height="1.8900000000000001" fill="#5bae3b" stroke="#2a6618" stroke-width="0.45"/>
<rect x="145.50" y="476.54" width="1.8900000000000001" height="1.8900000000000001" fill="#5bae3b" stroke="#2a6618" stroke-width="0.45"/>
<rect x="147.60" y="476.76" width="1.8900000000000001" height="1.8900000000000001" fill="#5bae3b" stroke="#2a6618" stroke-width="0.45"/>
<rect x="151.81" y="476.84" width="1.8900000000000001" height="1.8900000000000001" fill="#5bae3b" stroke="#2a6618" stroke-width="0.45"/>
<rect x="145.50" y="476.96" width="1.8900000000000001" height="1.8900000000000001" fill="#5bae3b" stroke="#2a6618" stroke-width="0.45"/>
<rect x="149.71" y="476.98" width="1.8900000000000001" height="1.8900000000000001" fill="#5bae3b" stroke="#2a6618" stroke-width="0.45"/>
<rect x="145.50" y="477.27" width="1.8900000000000001" height="1.8900000000000001" fill="#5bae3b" stroke="#2a6618" stroke-width="0.45"/>
<rect x="147.60" y="477.55" width="1.8900000000000001" height="1.8900000000000001" fill="#5bae3b" stroke="#2a6618" stroke-width="0.45"/>
<rect x="149.71" y="477.81" width="1.8900000000000001" height="1.8900000000000001" fill="#5bae3b" stroke="#2a6618" stroke-width="0.45"/>
<rect x="151.81" y="477.93" width="1.8900000000000001" height="1.8900000000000001" fill="#5bae3b" stroke="#2a6618" stroke-width="0.45"/>
<rect x="145.50" y="478.01" width="1.8900000000000001" height="1.8900000000000001" fill="#5bae3b" stroke="#2a6618" stroke-width="0.45"/>
<rect x="149.71" y="478.31" width="1.8900000000000001" height="1.8900000000000001" fill="#5bae3b" stroke="#2a6618" stroke-width="0.45"/>
<rect x="151.81" y="478.51" width="1.8900000000000001" height="1.8900000000000001" fill="#5bae3b" stroke="#2a6618" stroke-width="0.45"/>
<rect x="147.60" y="478.51" width="1.8900000000000001" height="1.8900000000000001" fill="#5bae3b" stroke="#2a6618" stroke-width="0.45"/>
<rect x="149.71" y="478.55" width="1.8900000000000001" height="1.8900000000000001" fill="#5bae3b" stroke="#2a6618" stroke-width="0.45"/>
<rect x="145.50" y="478.60" width="1.8900000000000001" height="1.8900000000000001" fill="#5bae3b" stroke="#2a6618" stroke-width="0.45"/>
<rect x="147.60" y="478.79" width="1.8900000000000001" height="1.8900000000000001" fill="#5bae3b" stroke="#2a6618" stroke-width="0.45"/>
<rect x="151.81" y="479.04" width="1.8900000000000001" height="1.8900000000000001" fill="#5bae3b" stroke="#2a6618" stroke-width="0.45"/>
<rect x="147.60" y="479.30" width="1.8900000000000001" height="1.8900000000000001" fill="#5bae3b" stroke="#2a6618" stroke-width="0.45"/>
<rect x="145.50" y="479.44" width="1.8900000000000001" height="1.8900000000000001" fill="#5bae3b" stroke="#2a6618" stroke-width="0.45"/>
<rect x="151.81" y="480.42" width="1.8900000000000001" height="1.8900000000000001" fill="#5bae3b" stroke="#2a6618" stroke-width="0.45"/>
<rect x="149.71" y="480.45" width="1.8900000000000001" height="1.8900000000000001" fill="#5bae3b" stroke="#2a6618" stroke-width="0.45"/>
<rect x="147.60" y="480.63" width="1.8900000000000001" height="1.8900000000000001" fill="#5bae3b" stroke="#2a6618" stroke-width="0.45"/>
<rect x="145.50" y="480.87" width="1.8900000000000001" height="1.8900000000000001" fill="#5bae3b" stroke="#2a6618" stroke-width="0.45"/>
<rect x="151.81" y="481.28" width="1.8900000000000001" height="1.8900000000000001" fill="#5bae3b" stroke="#2a6618" stroke-width="0.45"/>
<rect x="149.71" y="481.32" width="1.8900000000000001" height="1.8900000000000001" fill="#5bae3b" stroke="#2a6618" stroke-width="0.45"/>
<rect x="151.81" y="481.39" width="1.8900000000000001" height="1.8900000000000001" fill="#5bae3b" stroke="#2a6618" stroke-width="0.45"/>
<rect x="149.71" y="481.56" width="1.8900000000000001" height="1.8900000000000001" fill="#5bae3b" stroke="#2a6618" stroke-width="0.45"/>
<rect x="145.50" y="481.78" width="1.8900000000000001" height="1.8900000000000001" fill="#5bae3b" stroke="#2a6618" stroke-width="0.45"/>
<rect x="147.60" y="481.82" width="1.8900000000000001" height="1.8900000000000001" fill="#5bae3b" stroke="#2a6618" stroke-width="0.45"/>
<rect x="145.50" y="481.88" width="1.8900000000000001" height="1.8900000000000001" fill="#5bae3b" stroke="#2a6618" stroke-width="0.45"/>
<rect x="151.81" y="481.95" width="1.8900000000000001" height="1.8900000000000001" fill="#5bae3b" stroke="#2a6618" stroke-width="0.45"/>
<rect x="149.71" y="482.42" width="1.8900000000000001" height="1.8900000000000001" fill="#5bae3b" stroke="#2a6618" stroke-width="0.45"/>
<rect x="147.60" y="482.58" width="1.8900000000000001" height="1.8900000000000001" fill="#5bae3b" stroke="#2a6618" stroke-width="0.45"/>
<rect x="145.50" y="482.86" width="1.8900000000000001" height="1.8900000000000001" fill="#5bae3b" stroke="#2a6618" stroke-width="0.45"/>
<rect x="151.81" y="482.87" width="1.8900000000000001" height="1.8900000000000001" fill="#5bae3b" stroke="#2a6618" stroke-width="0.45"/>
<rect x="149.71" y="483.02" width="1.8900000000000001" height="1.8900000000000001" fill="#5bae3b" stroke="#2a6618" stroke-width="0.45"/>
<rect x="147.60" y="483.07" width="1.8900000000000001" height="1.8900000000000001" fill="#5bae3b" stroke="#2a6618" stroke-width="0.45"/>
<rect x="145.50" y="483.55" width="1.8900000000000001" height="1.8900000000000001" fill="#5bae3b" stroke="#2a6618" stroke-width="0.45"/>
<rect x="151.81" y="483.72" width="1.8900000000000001" height="1.8900000000000001" fill="#5bae3b" stroke="#2a6618" stroke-width="0.45"/>
<rect x="149.71" y="483.77" width="1.8900000000000001" height="1.8900000000000001" fill="#5bae3b" stroke="#2a6618" stroke-width="0.45"/>
<rect x="147.60" y="483.77" width="1.8900000000000001" height="1.8900000000000001" fill="#5bae3b" stroke="#2a6618" stroke-width="0.45"/>
<rect x="151.81" y="483.90" width="1.8900000000000001" height="1.8900000000000001" fill="#5bae3b" stroke="#2a6618" stroke-width="0.45"/>
<rect x="147.60" y="483.99" width="1.8900000000000001" height="1.8900000000000001" fill="#5bae3b" stroke="#2a6618" stroke-width="0.45"/>
<rect x="145.50" y="484.04" width="1.8900000000000001" height="1.8900000000000001" fill="#5bae3b" stroke="#2a6618" stroke-width="0.45"/>
<rect x="149.71" y="484.14" width="1.8900000000000001" height="1.8900000000000001" fill="#5bae3b" stroke="#2a6618" stroke-width="0.45"/>
<rect x="150.75" y="484.14" width="1.8900000000000001" height="1.8900000000000001" fill="#5bae3b" stroke="#2a6618" stroke-width="0.45"/>
<rect x="146.56" y="484.60" width="1.8900000000000001" height="1.8900000000000001" fill="#5bae3b" stroke="#2a6618" stroke-width="0.45"/>
<rect x="148.66" y="485.41" width="1.8900000000000001" height="1.8900000000000001" fill="#5bae3b" stroke="#2a6618" stroke-width="0.45"/>
<path d="M161.55 477.86L162.87 480.24L160.23 480.24Z" fill="#b3102b" stroke="#640818" stroke-width="0.4"/>
<path d="M159.25 478.99L160.57 481.37L157.93 481.37Z" fill="#b3102b" stroke="#640818" stroke-width="0.4"/>
<path d="M159.25 479.90L160.57 482.28L157.93 482.28Z" fill="#b3102b" stroke="#640818" stroke-width="0.4"/>
<path d="M163.85 480.58L165.17 482.96L162.53 482.96Z" fill="#b3102b" stroke="#640818" stroke-width="0.4"/>
<path d="M161.55 481.26L162.87 483.65L160.23 483.65Z" fill="#b3102b" stroke="#640818" stroke-width="0.4"/>
<path d="M156.95 481.72L158.27 484.10L155.63 484.10Z" fill="#b3102b" stroke="#640818" stroke-width="0.4"/>
<path d="M156.95 482.40L158.27 484.78L155.63 484.78Z" fill="#b3102b" stroke="#640818" stroke-width="0.4"/>
<path d="M161.55 482.97L162.87 485.35L160.23 485.35Z" fill="#b3102b" stroke="#640818" stroke-width="0.4"/>
<path d="M159.25 483.54L160.57 485.92L157.93 485.92Z" fill="#b3102b" stroke="#640818" stroke-width="0.4"/>
<path d="M163.85 484.10L165.17 486.48L162.53 486.48Z" fill="#b3102b" stroke="#640818" stroke-width="0.4"/>
<line x1="56.80" y1="441.13" x2="64.40" y2="441.13" stroke="#111" stroke-width="1.1"/>
<line x1="60.60" y1="438.86" x2="60.60" y2="443.40" stroke="#111" stroke-width="1"/>
<line x1="58.60" y1="438.86" x2="62.60" y2="438.86" stroke="#111" stroke-width="1"/>
<line x1="58.60" y1="443.40" x2="62.60" y2="443.40" stroke="#111" stroke-width="1"/>
<line x1="67.50" y1="431.59" x2="75.10" y2="431.59" stroke="#111" stroke-width="1.1"/>
<line x1="71.30" y1="429.09" x2="71.30" y2="434.09" stroke="#111" stroke-width="1"/>
<line x1="69.30" y1="429.09" x2="73.30" y2="429.09" stroke="#111" stroke-width="1"/>
<line x1="69.30" y1="434.09" x2="73.30" y2="434.09" stroke="#111" stroke-width="1"/>
<line x1="77.90" y1="436.70" x2="85.50" y2="436.70" stroke="#111" stroke-width="1.1"/>
<line x1="81.70" y1="432.39" x2="81.70" y2="441.02" stroke="#111" stroke-width="1"/>
<line x1="79.70" y1="432.39" x2="83.70" y2="432.39" stroke="#111" stroke-width="1"/>
<line x1="79.70" y1="441.02" x2="83.70" y2="441.02" stroke="#111" stroke-width="1"/>
<line x1="96.30" y1="422.51" x2="103.90" y2="422.51" stroke="#111" stroke-width="1.1"/>
<line x1="100.10" y1="420.24" x2="100.10" y2="424.78" stroke="#111" stroke-width="1"/>
<line x1="98.10" y1="420.24" x2="102.10" y2="420.24" stroke="#111" stroke-width="1"/>
<line x1="98.10" y1="424.78" x2="102.10" y2="424.78" stroke="#111" stroke-width="1"/>
<line x1="106.40" y1="430.91" x2="114.00" y2="430.91" stroke="#111" stroke-width="1.1"/>
<line x1="110.20" y1="428.41" x2="110.20" y2="433.41" stroke="#111" stroke-width="1"/>
<line x1="108.20" y1="428.41" x2="112.20" y2="428.41" stroke="#111" stroke-width="1"/>
<line x1="108.20" y1="433.41" x2="112.20" y2="433.41" stroke="#111" stroke-width="1"/>
<line x1="117.10" y1="425.91" x2="124.70" y2="425.91" stroke="#111" stroke-width="1.1"/>
<line x1="120.90" y1="422.73" x2="120.90" y2="429.09" stroke="#111" stroke-width="1"/>
<line x1="118.90" y1="422.73" x2="122.90" y2="422.73" stroke="#111" stroke-width="1"/>
<line x1="118.90" y1="429.09" x2="122.90" y2="429.09" stroke="#111" stroke-width="1"/>
<line x1="135.80" y1="481.56" x2="143.40" y2="481.56" stroke="#111" stroke-width="1.1"/>
<line x1="139.60" y1="480.65" x2="139.60" y2="482.47" stroke="#111" stroke-width="1"/>
<line x1="137.60" y1="480.65" x2="141.60" y2="480.65" stroke="#111" stroke-width="1"/>
<line x1="137.60" y1="482.47" x2="141.60" y2="482.47" stroke="#111" stroke-width="1"/>
<line x1="145.80" y1="482.01" x2="153.40" y2="482.01" stroke="#111" stroke-width="1.1"/>
<line x1="149.60" y1="481.10" x2="149.60" y2="482.92" stroke="#111" stroke-width="1"/>
<line x1="147.60" y1="481.10" x2="151.60" y2="481.10" stroke="#111" stroke-width="1"/>
<line x1="147.60" y1="482.92" x2="151.60" y2="482.92" stroke="#111" stroke-width="1"/>
<line x1="156.60" y1="482.69" x2="164.20" y2="482.69" stroke="#111" stroke-width="1.1"/>
<line x1="160.40" y1="481.78" x2="160.40" y2="483.60" stroke="#111" stroke-width="1"/>
<line x1="158.40" y1="481.78" x2="162.40" y2="481.78" stroke="#111" stroke-width="1"/>
<line x1="158.40" y1="483.60" x2="162.40" y2="483.60" stroke="#111" stroke-width="1"/>
<text x="244.80" y="369.00" font-size="12" text-anchor="start" font-weight="bold" fill="#000" stroke="#000" stroke-width="0.55" >G</text>
<line x1="285.30" y1="371.50" x2="285.30" y2="491.60" stroke="#222" stroke-width="1.1"/>
<line x1="281.70" y1="374.25" x2="285.30" y2="374.25" stroke="#222" stroke-width="1.1"/>
<text x="279.60" y="376.65" font-size="7.2" text-anchor="end" font-weight="normal" fill="#222" stroke="#222" stroke-width="0.18" >100</text>
<line x1="281.70" y1="397.58" x2="285.30" y2="397.58" stroke="#222" stroke-width="1.1"/>
<text x="279.60" y="399.98" font-size="7.2" text-anchor="end" font-weight="normal" fill="#222" stroke="#222" stroke-width="0.18" >80</text>
<line x1="281.70" y1="420.91" x2="285.30" y2="420.91" stroke="#222" stroke-width="1.1"/>
<text x="279.60" y="423.31" font-size="7.2" text-anchor="end" font-weight="normal" fill="#222" stroke="#222" stroke-width="0.18" >60</text>
<line x1="281.70" y1="444.24" x2="285.30" y2="444.24" stroke="#222" stroke-width="1.1"/>
<text x="279.60" y="446.64" font-size="7.2" text-anchor="end" font-weight="normal" fill="#222" stroke="#222" stroke-width="0.18" >40</text>
<line x1="281.70" y1="467.57" x2="285.30" y2="467.57" stroke="#222" stroke-width="1.1"/>
<text x="279.60" y="469.97" font-size="7.2" text-anchor="end" font-weight="normal" fill="#222" stroke="#222" stroke-width="0.18" >20</text>
<line x1="281.70" y1="490.90" x2="285.30" y2="490.90" stroke="#222" stroke-width="1.1"/>
<text x="279.60" y="493.30" font-size="7.2" text-anchor="end" font-weight="normal" fill="#222" stroke="#222" stroke-width="0.18" >0</text>
<line x1="282.00" y1="491.30" x2="364.30" y2="491.30" stroke="#222" stroke-width="1.2"/>
<line x1="301.10" y1="491.30" x2="301.10" y2="494.50" stroke="#222" stroke-width="1"/>
<line x1="324.50" y1="491.30" x2="324.50" y2="494.50" stroke="#222" stroke-width="1"/>
<line x1="347.50" y1="491.30" x2="347.50" y2="494.50" stroke="#222" stroke-width="1"/>
<line x1="405.60" y1="371.50" x2="405.60" y2="491.60" stroke="#222" stroke-width="1.1"/>
<line x1="402.00" y1="374.25" x2="405.60" y2="374.25" stroke="#222" stroke-width="1.1"/>
<text x="399.90" y="376.65" font-size="7.2" text-anchor="end" font-weight="normal" fill="#222" stroke="#222" stroke-width="0.18" >100</text>
<line x1="402.00" y1="397.58" x2="405.60" y2="397.58" stroke="#222" stroke-width="1.1"/>
<text x="399.90" y="399.98" font-size="7.2" text-anchor="end" font-weight="normal" fill="#222" stroke="#222" stroke-width="0.18" >80</text>
<line x1="402.00" y1="420.91" x2="405.60" y2="420.91" stroke="#222" stroke-width="1.1"/>
<text x="399.90" y="423.31" font-size="7.2" text-anchor="end" font-weight="normal" fill="#222" stroke="#222" stroke-width="0.18" >60</text>
<line x1="402.00" y1="444.24" x2="405.60" y2="444.24" stroke="#222" stroke-width="1.1"/>
<text x="399.90" y="446.64" font-size="7.2" text-anchor="end" font-weight="normal" fill="#222" stroke="#222" stroke-width="0.18" >40</text>
<line x1="402.00" y1="467.57" x2="405.60" y2="467.57" stroke="#222" stroke-width="1.1"/>
<text x="399.90" y="469.97" font-size="7.2" text-anchor="end" font-weight="normal" fill="#222" stroke="#222" stroke-width="0.18" >20</text>
<line x1="402.00" y1="490.90" x2="405.60" y2="490.90" stroke="#222" stroke-width="1.1"/>
<text x="399.90" y="493.30" font-size="7.2" text-anchor="end" font-weight="normal" fill="#222" stroke="#222" stroke-width="0.18" >0</text>
<line x1="402.00" y1="491.30" x2="484.00" y2="491.30" stroke="#222" stroke-width="1.2"/>
<line x1="421.20" y1="491.30" x2="421.20" y2="494.50" stroke="#222" stroke-width="1"/>
<line x1="444.60" y1="491.30" x2="444.60" y2="494.50" stroke="#222" stroke-width="1"/>
<line x1="468.00" y1="491.30" x2="468.00" y2="494.50" stroke="#222" stroke-width="1"/>
<text transform="translate(261.9,431.5) rotate(-90)" font-size="8.2" text-anchor="middle" fill="#222" stroke="#222" stroke-width="0.25" textLength="47.3" lengthAdjust="spacingAndGlyphs">Myeloid CFU (%)</text>
<text transform="translate(382,431.6) rotate(-90)" font-size="8.2" text-anchor="middle" fill="#222" stroke="#222" stroke-width="0.25" textLength="52.2" lengthAdjust="spacingAndGlyphs">Erythroid CFU (%)</text>
<text x="301.10" y="504.10" font-size="6.6" text-anchor="middle" font-weight="normal" fill="#222" stroke="#222" stroke-width="0.18" >Normal</text>
<text x="301.10" y="512.40" font-size="6.6" text-anchor="middle" font-weight="normal" fill="#222" stroke="#222" stroke-width="0.18" >Karyotype</text>
<text x="324.50" y="504.10" font-size="6.6" text-anchor="middle" font-weight="normal" fill="#222" stroke="#222" stroke-width="0.18" >Del</text>
<text x="324.50" y="512.40" font-size="6.6" text-anchor="middle" font-weight="normal" fill="#222" stroke="#222" stroke-width="0.18" >13q</text>
<text x="347.90" y="504.10" font-size="6.6" text-anchor="middle" font-weight="normal" fill="#222" stroke="#222" stroke-width="0.18" >Healthy</text>
<text x="347.90" y="512.40" font-size="6.6" text-anchor="middle" font-weight="normal" fill="#222" stroke="#222" stroke-width="0.18" >controls</text>
<text x="421.20" y="504.10" font-size="6.6" text-anchor="middle" font-weight="normal" fill="#222" stroke="#222" stroke-width="0.18" >Normal</text>
<text x="421.20" y="512.40" font-size="6.6" text-anchor="middle" font-weight="normal" fill="#222" stroke="#222" stroke-width="0.18" >Karyotype</text>
<text x="444.60" y="504.10" font-size="6.6" text-anchor="middle" font-weight="normal" fill="#222" stroke="#222" stroke-width="0.18" >Del</text>
<text x="444.60" y="512.40" font-size="6.6" text-anchor="middle" font-weight="normal" fill="#222" stroke="#222" stroke-width="0.18" >13q</text>
<text x="468.00" y="504.10" font-size="6.6" text-anchor="middle" font-weight="normal" fill="#222" stroke="#222" stroke-width="0.18" >Healthy</text>
<text x="468.00" y="512.40" font-size="6.6" text-anchor="middle" font-weight="normal" fill="#222" stroke="#222" stroke-width="0.18" >controls</text>
<rect x="293.80" y="429.90" width="14.40" height="61.40" fill="#eceef6"/>
<rect x="316.90" y="440.60" width="14.80" height="50.70" fill="#dde0ee"/>
<rect x="340.90" y="449.50" width="14.10" height="41.80" fill="#c9cfe1"/>
<rect x="413.90" y="442.30" width="14.50" height="49.00" fill="#f8ebeb"/>
<rect x="437.10" y="429.60" width="14.80" height="61.70" fill="#f3d9da"/>
<rect x="461.20" y="426.30" width="13.80" height="65.00" fill="#e8c1c9"/>
<path d="M297.30 377.70V372.90H351.10V377.70" fill="none" stroke="#222" stroke-width="0.9"/>
<text x="324.40" y="378.10" font-size="5.6" text-anchor="middle" font-weight="normal" fill="#333" stroke="#333" stroke-width="0.1" >***</text>
<path d="M297.30 385.90V380.90H323.30V385.90" fill="none" stroke="#222" stroke-width="0.9"/>
<text x="311.70" y="386.40" font-size="5.5" text-anchor="middle" font-weight="normal" fill="#333" stroke="#333" stroke-width="0.1" >p=0.08</text>
<path d="M325.20 385.90V380.90H351.10V385.90" fill="none" stroke="#222" stroke-width="0.9"/>
<text x="338.30" y="386.40" font-size="5.5" text-anchor="middle" font-weight="normal" fill="#333" stroke="#333" stroke-width="0.1" >p=0.36</text>
<path d="M417.30 378.70V373.90H471.40V378.70" fill="none" stroke="#222" stroke-width="0.9"/>
<text x="444.70" y="380.90" font-size="5.6" text-anchor="middle" font-weight="normal" fill="#333" stroke="#333" stroke-width="0.1" >***</text>
<path d="M417.30 386.90V382.10H443.50V386.90" fill="none" stroke="#222" stroke-width="0.9"/>
<text x="430.80" y="389.40" font-size="5.6" text-anchor="middle" font-weight="normal" fill="#333" stroke="#333" stroke-width="0.1" >*</text>
<path d="M445.20 386.90V382.10H471.40V386.90" fill="none" stroke="#222" stroke-width="0.9"/>
<text x="458.20" y="388.10" font-size="5.5" text-anchor="middle" font-weight="normal" fill="#333" stroke="#333" stroke-width="0.1" >p=0.47</text>
<circle cx="295.00" cy="417.90" r="1.9" fill="#bac0de" stroke="#5a6498" stroke-width="0.55"/>
<circle cx="301.00" cy="415.50" r="1.9" fill="#bac0de" stroke="#5a6498" stroke-width="0.55"/>
<circle cx="301.00" cy="419.20" r="1.9" fill="#bac0de" stroke="#5a6498" stroke-width="0.55"/>
<circle cx="307.10" cy="413.20" r="1.9" fill="#bac0de" stroke="#5a6498" stroke-width="0.55"/>
<circle cx="307.10" cy="417.90" r="1.9" fill="#bac0de" stroke="#5a6498" stroke-width="0.55"/>
<circle cx="307.10" cy="425.30" r="1.9" fill="#bac0de" stroke="#5a6498" stroke-width="0.55"/>
<circle cx="295.00" cy="428.70" r="1.9" fill="#bac0de" stroke="#5a6498" stroke-width="0.55"/>
<circle cx="301.00" cy="428.70" r="1.9" fill="#bac0de" stroke="#5a6498" stroke-width="0.55"/>
<circle cx="301.00" cy="436.60" r="1.9" fill="#bac0de" stroke="#5a6498" stroke-width="0.55"/>
<circle cx="295.00" cy="442.40" r="1.9" fill="#bac0de" stroke="#5a6498" stroke-width="0.55"/>
<circle cx="301.00" cy="442.80" r="1.9" fill="#bac0de" stroke="#5a6498" stroke-width="0.55"/>
<circle cx="295.00" cy="446.40" r="1.9" fill="#bac0de" stroke="#5a6498" stroke-width="0.55"/>
<circle cx="307.10" cy="445.80" r="1.9" fill="#bac0de" stroke="#5a6498" stroke-width="0.55"/>
<circle cx="324.50" cy="389.20" r="1.9" fill="#7686be" stroke="#34447e" stroke-width="0.55"/>
<circle cx="322.50" cy="410.80" r="1.9" fill="#7686be" stroke="#34447e" stroke-width="0.55"/>
<circle cx="325.80" cy="409.20" r="1.9" fill="#7686be" stroke="#34447e" stroke-width="0.55"/>
<circle cx="322.50" cy="418.80" r="1.9" fill="#7686be" stroke="#34447e" stroke-width="0.55"/>
<circle cx="326.00" cy="418.80" r="1.9" fill="#7686be" stroke="#34447e" stroke-width="0.55"/>
<circle cx="328.60" cy="420.90" r="1.9" fill="#7686be" stroke="#34447e" stroke-width="0.55"/>
<circle cx="322.50" cy="423.10" r="1.9" fill="#7686be" stroke="#34447e" stroke-width="0.55"/>
<circle cx="324.30" cy="428.90" r="1.9" fill="#7686be" stroke="#34447e" stroke-width="0.55"/>
<circle cx="322.60" cy="438.80" r="1.9" fill="#7686be" stroke="#34447e" stroke-width="0.55"/>
<circle cx="326.20" cy="438.80" r="1.9" fill="#7686be" stroke="#34447e" stroke-width="0.55"/>
<circle cx="318.20" cy="447.70" r="1.9" fill="#7686be" stroke="#34447e" stroke-width="0.55"/>
<circle cx="318.20" cy="451.20" r="1.9" fill="#7686be" stroke="#34447e" stroke-width="0.55"/>
<circle cx="323.10" cy="449.60" r="1.9" fill="#7686be" stroke="#34447e" stroke-width="0.55"/>
<circle cx="325.70" cy="450.40" r="1.9" fill="#7686be" stroke="#34447e" stroke-width="0.55"/>
<circle cx="327.90" cy="450.20" r="1.9" fill="#7686be" stroke="#34447e" stroke-width="0.55"/>
<circle cx="330.60" cy="449.30" r="1.9" fill="#7686be" stroke="#34447e" stroke-width="0.55"/>
<circle cx="320.80" cy="452.60" r="1.9" fill="#7686be" stroke="#34447e" stroke-width="0.55"/>
<circle cx="323.50" cy="452.60" r="1.9" fill="#7686be" stroke="#34447e" stroke-width="0.55"/>
<circle cx="326.60" cy="453.20" r="1.9" fill="#7686be" stroke="#34447e" stroke-width="0.55"/>
<circle cx="330.60" cy="453.20" r="1.9" fill="#7686be" stroke="#34447e" stroke-width="0.55"/>
<circle cx="318.60" cy="455.70" r="1.9" fill="#7686be" stroke="#34447e" stroke-width="0.55"/>
<circle cx="323.10" cy="454.80" r="1.9" fill="#7686be" stroke="#34447e" stroke-width="0.55"/>
<circle cx="325.70" cy="454.30" r="1.9" fill="#7686be" stroke="#34447e" stroke-width="0.55"/>
<circle cx="328.40" cy="455.00" r="1.9" fill="#7686be" stroke="#34447e" stroke-width="0.55"/>
<circle cx="320.80" cy="460.10" r="1.9" fill="#7686be" stroke="#34447e" stroke-width="0.55"/>
<circle cx="325.70" cy="460.10" r="1.9" fill="#7686be" stroke="#34447e" stroke-width="0.55"/>
<circle cx="328.40" cy="458.80" r="1.9" fill="#7686be" stroke="#34447e" stroke-width="0.55"/>
<line x1="347.60" y1="442.00" x2="347.60" y2="446.60" stroke="#555" stroke-width="1.0"/>
<line x1="344.60" y1="442.00" x2="350.60" y2="442.00" stroke="#555" stroke-width="1.0"/>
<line x1="344.60" y1="446.60" x2="350.60" y2="446.60" stroke="#555" stroke-width="1.0"/>
<line x1="344.60" y1="444.30" x2="350.60" y2="444.30" stroke="#555" stroke-width="1.0"/>
<circle cx="347.90" cy="428.00" r="1.9" fill="#1d3d8c" stroke="#0f1f48" stroke-width="0.55"/>
<circle cx="345.60" cy="432.70" r="1.9" fill="#1d3d8c" stroke="#0f1f48" stroke-width="0.55"/>
<circle cx="350.10" cy="434.90" r="1.9" fill="#1d3d8c" stroke="#0f1f48" stroke-width="0.55"/>
<circle cx="345.60" cy="436.40" r="1.9" fill="#1d3d8c" stroke="#0f1f48" stroke-width="0.55"/>
<circle cx="350.10" cy="438.80" r="1.9" fill="#1d3d8c" stroke="#0f1f48" stroke-width="0.55"/>
<circle cx="347.80" cy="440.40" r="1.9" fill="#1d3d8c" stroke="#0f1f48" stroke-width="0.55"/>
<circle cx="343.90" cy="442.40" r="1.9" fill="#1d3d8c" stroke="#0f1f48" stroke-width="0.55"/>
<circle cx="350.10" cy="443.30" r="1.9" fill="#1d3d8c" stroke="#0f1f48" stroke-width="0.55"/>
<circle cx="347.00" cy="443.70" r="1.9" fill="#1d3d8c" stroke="#0f1f48" stroke-width="0.55"/>
<circle cx="341.60" cy="447.70" r="1.9" fill="#1d3d8c" stroke="#0f1f48" stroke-width="0.55"/>
<circle cx="343.90" cy="448.10" r="1.9" fill="#1d3d8c" stroke="#0f1f48" stroke-width="0.55"/>
<circle cx="346.10" cy="446.40" r="1.9" fill="#1d3d8c" stroke="#0f1f48" stroke-width="0.55"/>
<circle cx="348.30" cy="446.40" r="1.9" fill="#1d3d8c" stroke="#0f1f48" stroke-width="0.55"/>
<circle cx="352.30" cy="445.90" r="1.9" fill="#1d3d8c" stroke="#0f1f48" stroke-width="0.55"/>
<circle cx="354.00" cy="447.30" r="1.9" fill="#1d3d8c" stroke="#0f1f48" stroke-width="0.55"/>
<circle cx="346.10" cy="449.90" r="1.9" fill="#1d3d8c" stroke="#0f1f48" stroke-width="0.55"/>
<circle cx="350.10" cy="450.40" r="1.9" fill="#1d3d8c" stroke="#0f1f48" stroke-width="0.55"/>
<circle cx="352.30" cy="449.00" r="1.9" fill="#1d3d8c" stroke="#0f1f48" stroke-width="0.55"/>
<circle cx="347.80" cy="469.40" r="1.9" fill="#1d3d8c" stroke="#0f1f48" stroke-width="0.55"/>
<line x1="301.00" y1="425.60" x2="301.00" y2="432.30" stroke="#222" stroke-width="1.1"/>
<line x1="297.30" y1="425.60" x2="304.70" y2="425.60" stroke="#222" stroke-width="1.1"/>
<line x1="297.30" y1="432.30" x2="304.70" y2="432.30" stroke="#222" stroke-width="1.1"/>
<line x1="297.30" y1="428.90" x2="304.70" y2="428.90" stroke="#222" stroke-width="1.1"/>
<line x1="324.50" y1="436.40" x2="324.50" y2="443.90" stroke="#222" stroke-width="1.1"/>
<line x1="320.60" y1="436.40" x2="328.40" y2="436.40" stroke="#222" stroke-width="1.1"/>
<line x1="320.60" y1="443.90" x2="328.40" y2="443.90" stroke="#222" stroke-width="1.1"/>
<line x1="320.60" y1="440.20" x2="328.40" y2="440.20" stroke="#222" stroke-width="1.1"/>
<circle cx="420.80" cy="424.60" r="1.9" fill="#f4c2ad" stroke="#b87464" stroke-width="0.55"/>
<circle cx="415.00" cy="430.00" r="1.9" fill="#f4c2ad" stroke="#b87464" stroke-width="0.55"/>
<circle cx="418.80" cy="431.80" r="1.9" fill="#f4c2ad" stroke="#b87464" stroke-width="0.55"/>
<circle cx="423.20" cy="431.80" r="1.9" fill="#f4c2ad" stroke="#b87464" stroke-width="0.55"/>
<circle cx="427.30" cy="428.20" r="1.9" fill="#f4c2ad" stroke="#b87464" stroke-width="0.55"/>
<circle cx="414.80" cy="445.20" r="1.9" fill="#f4c2ad" stroke="#b87464" stroke-width="0.55"/>
<circle cx="419.20" cy="446.00" r="1.9" fill="#f4c2ad" stroke="#b87464" stroke-width="0.55"/>
<circle cx="422.90" cy="445.50" r="1.9" fill="#f4c2ad" stroke="#b87464" stroke-width="0.55"/>
<circle cx="426.90" cy="447.20" r="1.9" fill="#f4c2ad" stroke="#b87464" stroke-width="0.55"/>
<circle cx="419.20" cy="451.50" r="1.9" fill="#f4c2ad" stroke="#b87464" stroke-width="0.55"/>
<circle cx="422.90" cy="450.60" r="1.9" fill="#f4c2ad" stroke="#b87464" stroke-width="0.55"/>
<circle cx="426.90" cy="452.50" r="1.9" fill="#f4c2ad" stroke="#b87464" stroke-width="0.55"/>
<circle cx="421.20" cy="455.80" r="1.9" fill="#f4c2ad" stroke="#b87464" stroke-width="0.55"/>
<line x1="421.20" y1="438.50" x2="421.20" y2="444.60" stroke="#222" stroke-width="1.1"/>
<line x1="417.50" y1="438.50" x2="424.90" y2="438.50" stroke="#222" stroke-width="1.1"/>
<line x1="417.50" y1="444.60" x2="424.90" y2="444.60" stroke="#222" stroke-width="1.1"/>
<line x1="417.50" y1="441.50" x2="424.90" y2="441.50" stroke="#222" stroke-width="1.1"/>
<circle cx="443.50" cy="405.50" r="1.9" fill="#d98170" stroke="#873a2c" stroke-width="0.55"/>
<circle cx="445.70" cy="405.50" r="1.9" fill="#d98170" stroke="#873a2c" stroke-width="0.55"/>
<circle cx="440.30" cy="411.10" r="1.9" fill="#d98170" stroke="#873a2c" stroke-width="0.55"/>
<circle cx="438.00" cy="414.60" r="1.9" fill="#d98170" stroke="#873a2c" stroke-width="0.55"/>
<circle cx="441.20" cy="415.20" r="1.9" fill="#d98170" stroke="#873a2c" stroke-width="0.55"/>
<circle cx="444.50" cy="413.90" r="1.9" fill="#d98170" stroke="#873a2c" stroke-width="0.55"/>
<circle cx="448.40" cy="413.90" r="1.9" fill="#d98170" stroke="#873a2c" stroke-width="0.55"/>
<circle cx="450.90" cy="416.40" r="1.9" fill="#d98170" stroke="#873a2c" stroke-width="0.55"/>
<circle cx="438.00" cy="418.90" r="1.9" fill="#d98170" stroke="#873a2c" stroke-width="0.55"/>
<circle cx="440.30" cy="418.90" r="1.9" fill="#d98170" stroke="#873a2c" stroke-width="0.55"/>
<circle cx="442.60" cy="419.40" r="1.9" fill="#d98170" stroke="#873a2c" stroke-width="0.55"/>
<circle cx="446.30" cy="418.90" r="1.9" fill="#d98170" stroke="#873a2c" stroke-width="0.55"/>
<circle cx="450.50" cy="420.30" r="1.9" fill="#d98170" stroke="#873a2c" stroke-width="0.55"/>
<circle cx="444.00" cy="421.20" r="1.9" fill="#d98170" stroke="#873a2c" stroke-width="0.55"/>
<circle cx="442.20" cy="423.10" r="1.9" fill="#d98170" stroke="#873a2c" stroke-width="0.55"/>
<circle cx="446.30" cy="423.50" r="1.9" fill="#d98170" stroke="#873a2c" stroke-width="0.55"/>
<circle cx="440.10" cy="428.20" r="1.9" fill="#d98170" stroke="#873a2c" stroke-width="0.55"/>
<circle cx="446.30" cy="429.10" r="1.9" fill="#d98170" stroke="#873a2c" stroke-width="0.55"/>
<circle cx="442.20" cy="430.90" r="1.9" fill="#d98170" stroke="#873a2c" stroke-width="0.55"/>
<circle cx="440.80" cy="444.20" r="1.9" fill="#d98170" stroke="#873a2c" stroke-width="0.55"/>
<circle cx="442.70" cy="443.50" r="1.9" fill="#d98170" stroke="#873a2c" stroke-width="0.55"/>
<circle cx="448.10" cy="444.20" r="1.9" fill="#d98170" stroke="#873a2c" stroke-width="0.55"/>
<circle cx="446.20" cy="447.30" r="1.9" fill="#d98170" stroke="#873a2c" stroke-width="0.55"/>
<circle cx="444.60" cy="449.60" r="1.9" fill="#d98170" stroke="#873a2c" stroke-width="0.55"/>
<circle cx="442.30" cy="457.70" r="1.9" fill="#d98170" stroke="#873a2c" stroke-width="0.55"/>
<circle cx="446.20" cy="459.60" r="1.9" fill="#d98170" stroke="#873a2c" stroke-width="0.55"/>
<circle cx="444.60" cy="477.50" r="1.9" fill="#d98170" stroke="#873a2c" stroke-width="0.55"/>
<line x1="444.70" y1="425.10" x2="444.70" y2="432.30" stroke="#222" stroke-width="1.1"/>
<line x1="441.10" y1="425.10" x2="448.30" y2="425.10" stroke="#222" stroke-width="1.1"/>
<line x1="441.10" y1="432.30" x2="448.30" y2="432.30" stroke="#222" stroke-width="1.1"/>
<line x1="441.10" y1="428.60" x2="448.30" y2="428.60" stroke="#222" stroke-width="1.1"/>
<line x1="467.80" y1="423.10" x2="467.80" y2="428.00" stroke="#444" stroke-width="1.0"/>
<line x1="464.20" y1="423.10" x2="471.40" y2="423.10" stroke="#444" stroke-width="1.0"/>
<line x1="464.20" y1="428.00" x2="471.40" y2="428.00" stroke="#444" stroke-width="1.0"/>
<line x1="464.20" y1="425.50" x2="471.40" y2="425.50" stroke="#444" stroke-width="1.0"/>
<circle cx="470.80" cy="416.60" r="1.9" fill="#b1102d" stroke="#640818" stroke-width="0.55"/>
<circle cx="461.70" cy="418.00" r="1.9" fill="#b1102d" stroke="#640818" stroke-width="0.55"/>
<circle cx="468.00" cy="419.90" r="1.9" fill="#b1102d" stroke="#640818" stroke-width="0.55"/>
<circle cx="470.80" cy="419.90" r="1.9" fill="#b1102d" stroke="#640818" stroke-width="0.55"/>
<circle cx="474.00" cy="421.70" r="1.9" fill="#b1102d" stroke="#640818" stroke-width="0.55"/>
<circle cx="461.70" cy="422.20" r="1.9" fill="#b1102d" stroke="#640818" stroke-width="0.55"/>
<circle cx="467.50" cy="424.50" r="1.9" fill="#b1102d" stroke="#640818" stroke-width="0.55"/>
<circle cx="470.80" cy="424.00" r="1.9" fill="#b1102d" stroke="#640818" stroke-width="0.55"/>
<circle cx="464.80" cy="426.80" r="1.9" fill="#b1102d" stroke="#640818" stroke-width="0.55"/>
<circle cx="461.70" cy="427.70" r="1.9" fill="#b1102d" stroke="#640818" stroke-width="0.55"/>
<circle cx="470.30" cy="427.20" r="1.9" fill="#b1102d" stroke="#640818" stroke-width="0.55"/>
<circle cx="470.80" cy="430.50" r="1.9" fill="#b1102d" stroke="#640818" stroke-width="0.55"/>
<circle cx="474.00" cy="430.50" r="1.9" fill="#b1102d" stroke="#640818" stroke-width="0.55"/>
<circle cx="461.70" cy="433.40" r="1.9" fill="#b1102d" stroke="#640818" stroke-width="0.55"/>
<circle cx="464.80" cy="432.80" r="1.9" fill="#b1102d" stroke="#640818" stroke-width="0.55"/>
<circle cx="468.00" cy="434.20" r="1.9" fill="#b1102d" stroke="#640818" stroke-width="0.55"/>
<circle cx="470.80" cy="437.40" r="1.9" fill="#b1102d" stroke="#640818" stroke-width="0.55"/>
<circle cx="464.80" cy="440.60" r="1.9" fill="#b1102d" stroke="#640818" stroke-width="0.55"/>
<circle cx="468.00" cy="398.10" r="1.9" fill="#b1102d" stroke="#640818" stroke-width="0.55"/>
<rect x="0.5" y="0.5" width="519" height="520" fill="none" stroke="#000" stroke-width="1"/>
<line x1="1" y1="519.5" x2="519" y2="519.5" stroke="#ddd" stroke-width="1"/>
</svg>
</body></html>
